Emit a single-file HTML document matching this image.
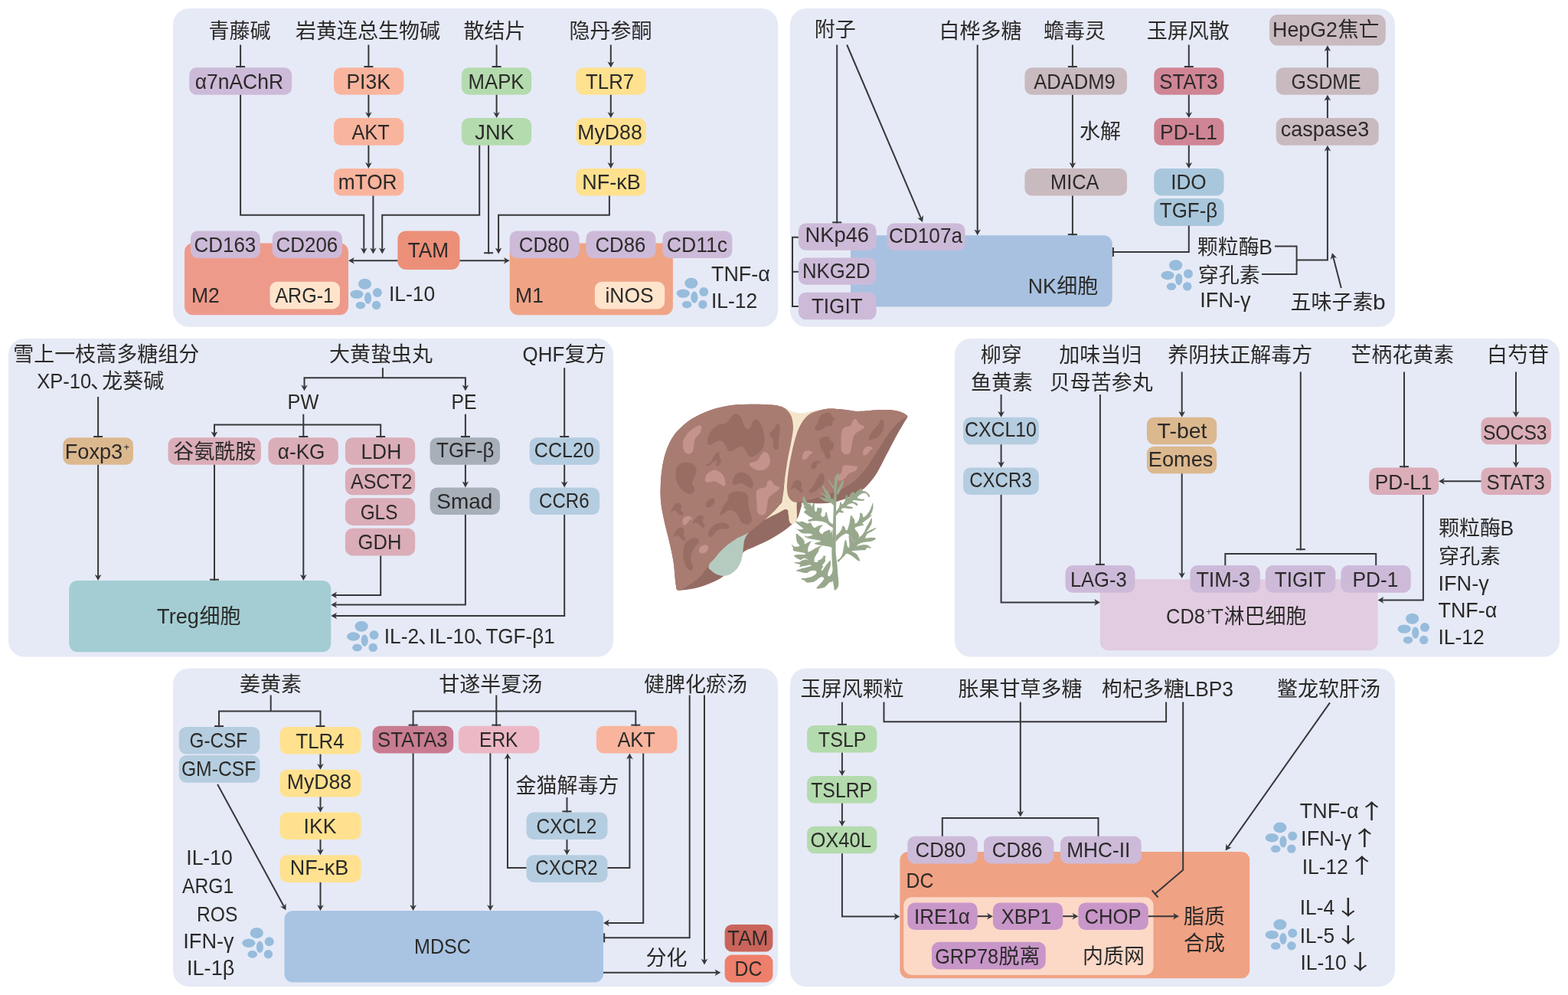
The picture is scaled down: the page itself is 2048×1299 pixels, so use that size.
<!DOCTYPE html>
<html lang="zh-CN">
<head>
<meta charset="utf-8">
<title>中药调控肝癌免疫微环境</title>
<style>
html,body{margin:0;padding:0;background:#fff;}
body{width:2048px;height:1299px;overflow:hidden;}
svg{display:block;will-change:transform;}
.l{font-size:27.6px;}
.ar{font-family:"Noto Sans CJK SC",sans-serif;}
text{font-family:"Liberation Sans","Noto Sans CJK SC",sans-serif;font-size:27px;fill:#2b2a29;white-space:pre;}

</style>
</head>
<body>
<svg width="2048" height="1299" viewBox="0 0 2048 1299">
<rect x="226.0" y="11.0" width="790.0" height="415.8" rx="21" fill="#e6eaf6"/>
<text y="49.6"><tspan x="272.5">青藤碱</tspan></text>
<text y="49.6"><tspan x="386.1">岩黄连总生物碱</tspan></text>
<text y="49.6"><tspan x="605.5">散结片</tspan></text>
<text y="49.6"><tspan x="743.5">隐丹参酮</tspan></text>
<rect x="247.2" y="88.2" width="134.0" height="35.6" rx="9.5" fill="#cdbad9"/>
<text y="115.7"><tspan class="l" x="254.8" textLength="115.2" lengthAdjust="spacingAndGlyphs">α7nAChR</tspan></text>
<rect x="436.0" y="88.2" width="91.3" height="35.6" rx="9.5" fill="#f9b49d"/>
<text y="115.7"><tspan class="l" x="452.4" textLength="57.4" lengthAdjust="spacingAndGlyphs">PI3K</tspan></text>
<rect x="436.0" y="154.1" width="91.3" height="35.6" rx="9.5" fill="#f9b49d"/>
<text y="181.6"><tspan class="l" x="459.4" textLength="49.5" lengthAdjust="spacingAndGlyphs">AKT</tspan></text>
<rect x="436.0" y="219.9" width="91.3" height="35.6" rx="9.5" fill="#f9b49d"/>
<text y="247.4"><tspan class="l" x="441.7" textLength="76.9" lengthAdjust="spacingAndGlyphs">mTOR</tspan></text>
<rect x="602.9" y="88.2" width="91.3" height="35.6" rx="9.5" fill="#b4dbae"/>
<text y="115.7"><tspan class="l" x="611.6" textLength="72.9" lengthAdjust="spacingAndGlyphs">MAPK</tspan></text>
<rect x="602.9" y="154.1" width="91.3" height="35.6" rx="9.5" fill="#b4dbae"/>
<text y="181.6"><tspan class="l" x="620.3" textLength="51.4" lengthAdjust="spacingAndGlyphs">JNK</tspan></text>
<rect x="752.4" y="88.2" width="91.3" height="35.6" rx="9.5" fill="#ffe18f"/>
<text y="115.7"><tspan class="l" x="765.1" textLength="63.0" lengthAdjust="spacingAndGlyphs">TLR7</tspan></text>
<rect x="752.4" y="154.1" width="91.3" height="35.6" rx="9.5" fill="#ffe18f"/>
<text y="181.6"><tspan class="l" x="754.3" textLength="84.5" lengthAdjust="spacingAndGlyphs">MyD88</tspan></text>
<rect x="752.4" y="219.9" width="91.3" height="35.6" rx="9.5" fill="#ffe18f"/>
<text y="247.4"><tspan class="l" x="760.3" textLength="76.4" lengthAdjust="spacingAndGlyphs">NF-κB</tspan></text>
<rect x="241.0" y="317.6" width="214.0" height="93.7" rx="11" fill="#ee9a8b"/>
<rect x="665.7" y="317.6" width="213.2" height="93.7" rx="11" fill="#f0a486"/>
<rect x="248.9" y="301.4" width="90.9" height="35.6" rx="9.5" fill="#cdbad9"/>
<text y="328.9"><tspan class="l" x="253.5" textLength="80.8" lengthAdjust="spacingAndGlyphs">CD163</tspan></text>
<rect x="355.7" y="301.4" width="91.3" height="35.6" rx="9.5" fill="#cdbad9"/>
<text y="328.9"><tspan class="l" x="360.5" textLength="80.8" lengthAdjust="spacingAndGlyphs">CD206</tspan></text>
<rect x="352.5" y="367.8" width="91.4" height="35.6" rx="9.5" fill="#ffe4cc"/>
<text y="395.3"><tspan class="l" x="359.4" textLength="76.5" lengthAdjust="spacingAndGlyphs">ARG-1</tspan></text>
<rect x="519.4" y="301.4" width="81.1" height="50.6" rx="11" fill="#ec8f79"/>
<text y="336.4"><tspan class="l" x="532.8" textLength="53.3" lengthAdjust="spacingAndGlyphs">TAM</tspan></text>
<rect x="665.7" y="301.4" width="91.0" height="35.6" rx="9.5" fill="#cdbad9"/>
<text y="328.9"><tspan class="l" x="677.8" textLength="65.8" lengthAdjust="spacingAndGlyphs">CD80</tspan></text>
<rect x="765.4" y="301.4" width="91.0" height="35.6" rx="9.5" fill="#cdbad9"/>
<text y="328.9"><tspan class="l" x="777.5" textLength="65.8" lengthAdjust="spacingAndGlyphs">CD86</tspan></text>
<rect x="865.5" y="301.4" width="90.9" height="35.6" rx="9.5" fill="#cdbad9"/>
<text y="328.9"><tspan class="l" x="870.7" textLength="79.5" lengthAdjust="spacingAndGlyphs">CD11c</tspan></text>
<rect x="776.9" y="367.8" width="91.3" height="35.6" rx="9.5" fill="#ffe4cc"/>
<text y="395.3"><tspan class="l" x="790.5" textLength="63.1" lengthAdjust="spacingAndGlyphs">iNOS</tspan></text>
<text y="395.3"><tspan class="l" x="250.0" textLength="36.9" lengthAdjust="spacingAndGlyphs">M2</tspan></text>
<text y="395.3"><tspan class="l" x="673.1" textLength="36.9" lengthAdjust="spacingAndGlyphs">M1</tspan></text>
<g fill="#97bcdc"><ellipse cx="476.5" cy="370.8" rx="8.6" ry="7.0"/><ellipse cx="466.0" cy="384.1" rx="8.6" ry="5.7"/><ellipse cx="480.6" cy="389.2" rx="4.6" ry="7.6"/><ellipse cx="492.9" cy="382.0" rx="6.0" ry="6.0"/><ellipse cx="470.9" cy="398.7" rx="6.3" ry="4.8"/><ellipse cx="491.6" cy="398.5" rx="5.7" ry="5.7"/></g>
<text y="392.7"><tspan class="l" x="508.0" textLength="60.3" lengthAdjust="spacingAndGlyphs">IL-10</tspan></text>
<g fill="#97bcdc"><ellipse cx="902.8" cy="369.8" rx="8.6" ry="7.0"/><ellipse cx="892.3" cy="383.1" rx="8.6" ry="5.7"/><ellipse cx="906.9" cy="388.2" rx="4.6" ry="7.6"/><ellipse cx="919.2" cy="381.0" rx="6.0" ry="6.0"/><ellipse cx="897.2" cy="397.7" rx="6.3" ry="4.8"/><ellipse cx="917.9" cy="397.5" rx="5.7" ry="5.7"/></g>
<text y="366.7"><tspan class="l" x="929.0" textLength="76.8" lengthAdjust="spacingAndGlyphs">TNF-α</tspan></text>
<text y="401.7"><tspan class="l" x="929.0" textLength="60.3" lengthAdjust="spacingAndGlyphs">IL-12</tspan></text>
<path d="M314.1,58.5 L314.1,88.2" fill="none" stroke="#37373b" stroke-width="2.0"/>
<line x1="320.1" y1="87.0" x2="308.1" y2="87.0" stroke="#37373b" stroke-width="2.0"/>
<path d="M481.4,58.5 L481.4,88.2" fill="none" stroke="#37373b" stroke-width="2.0"/>
<line x1="487.4" y1="87.0" x2="475.4" y2="87.0" stroke="#37373b" stroke-width="2.0"/>
<path d="M648.6,58.5 L648.6,88.2" fill="none" stroke="#37373b" stroke-width="2.0"/>
<line x1="654.6" y1="87.0" x2="642.6" y2="87.0" stroke="#37373b" stroke-width="2.0"/>
<path d="M797.8,58.5 L797.8,84.2" fill="none" stroke="#37373b" stroke-width="2.0"/>
<polygon points="797.8,88.2 793.5,80.4 797.8,82.6 802.1,80.4" fill="#37373b"/>
<path d="M481.4,123.8 L481.4,150.1" fill="none" stroke="#37373b" stroke-width="2.0"/>
<polygon points="481.4,154.1 477.1,146.3 481.4,148.5 485.7,146.3" fill="#37373b"/>
<path d="M481.4,189.7 L481.4,215.9" fill="none" stroke="#37373b" stroke-width="2.0"/>
<polygon points="481.4,219.9 477.1,212.1 481.4,214.3 485.7,212.1" fill="#37373b"/>
<path d="M648.6,123.8 L648.6,150.1" fill="none" stroke="#37373b" stroke-width="2.0"/>
<polygon points="648.6,154.1 644.3,146.3 648.6,148.5 652.9,146.3" fill="#37373b"/>
<path d="M797.8,123.8 L797.8,150.1" fill="none" stroke="#37373b" stroke-width="2.0"/>
<polygon points="797.8,154.1 793.5,146.3 797.8,148.5 802.1,146.3" fill="#37373b"/>
<path d="M797.8,189.7 L797.8,215.9" fill="none" stroke="#37373b" stroke-width="2.0"/>
<polygon points="797.8,219.9 793.5,212.1 797.8,214.3 802.1,212.1" fill="#37373b"/>
<path d="M314.1,123.8 L314.1,280.8 L475.3,280.8 L475.3,327.4" fill="none" stroke="#37373b" stroke-width="2.0"/>
<polygon points="475.3,331.4 471.0,323.6 475.3,325.8 479.6,323.6" fill="#37373b"/>
<path d="M487.4,255.5 L487.4,327.4" fill="none" stroke="#37373b" stroke-width="2.0"/>
<polygon points="487.4,331.4 483.1,323.6 487.4,325.8 491.7,323.6" fill="#37373b"/>
<path d="M626.2,189.7 L626.2,280.8 L499.2,280.8 L499.2,327.4" fill="none" stroke="#37373b" stroke-width="2.0"/>
<polygon points="499.2,331.4 494.9,323.6 499.2,325.8 503.5,323.6" fill="#37373b"/>
<path d="M638.1,189.7 L638.1,331.4" fill="none" stroke="#37373b" stroke-width="2.0"/>
<line x1="644.1" y1="330.2" x2="632.1" y2="330.2" stroke="#37373b" stroke-width="2.0"/>
<path d="M795.9,255.5 L795.9,280.8 L651.1,280.8 L651.1,327.4" fill="none" stroke="#37373b" stroke-width="2.0"/>
<polygon points="651.1,331.4 646.8,323.6 651.1,325.8 655.4,323.6" fill="#37373b"/>
<path d="M519.4,340.3 L459.0,340.3" fill="none" stroke="#37373b" stroke-width="2.0"/>
<polygon points="455.0,340.3 462.8,336.0 460.6,340.3 462.8,344.6" fill="#37373b"/>
<path d="M600.5,340.3 L661.7,340.3" fill="none" stroke="#37373b" stroke-width="2.0"/>
<polygon points="665.7,340.3 657.9,344.6 660.1,340.3 657.9,336.0" fill="#37373b"/>
<rect x="1032.0" y="11.0" width="790.0" height="415.8" rx="21" fill="#e6eaf6"/>
<text y="48.4"><tspan x="1063.8">附子</tspan></text>
<text y="49.6"><tspan x="1226.6">白桦多糖</tspan></text>
<text y="49.6"><tspan x="1363.0">蟾毒灵</tspan></text>
<text y="49.6"><tspan x="1497.8">玉屏风散</tspan></text>
<rect x="1658.0" y="19.0" width="151.8" height="40.6" rx="11" fill="#c9babf"/>
<text y="48.1"><tspan class="l" x="1662.1" textLength="84.9" lengthAdjust="spacingAndGlyphs">HepG2</tspan><tspan x="1747.6">焦亡</tspan></text>
<rect x="1666.7" y="88.2" width="134.0" height="35.6" rx="9.5" fill="#c9babf"/>
<text y="115.7"><tspan class="l" x="1686.5" textLength="91.1" lengthAdjust="spacingAndGlyphs">GSDME</tspan></text>
<rect x="1666.7" y="154.1" width="134.0" height="35.6" rx="9.5" fill="#c9babf"/>
<text y="178.2"><tspan class="l" x="1672.8" textLength="115.4" lengthAdjust="spacingAndGlyphs">caspase3</tspan></text>
<rect x="1338.4" y="88.2" width="133.6" height="35.6" rx="9.5" fill="#c9babf"/>
<text y="115.7"><tspan class="l" x="1350.2" textLength="106.6" lengthAdjust="spacingAndGlyphs">ADADM9</tspan></text>
<rect x="1338.4" y="219.9" width="133.6" height="35.6" rx="9.5" fill="#c9babf"/>
<text y="247.4"><tspan class="l" x="1372.0" textLength="63.5" lengthAdjust="spacingAndGlyphs">MICA</tspan></text>
<text y="181.3"><tspan x="1410.0">水解</tspan></text>
<rect x="1507.3" y="88.2" width="91.3" height="35.6" rx="9.5" fill="#cf8594"/>
<text y="115.7"><tspan class="l" x="1514.3" textLength="76.4" lengthAdjust="spacingAndGlyphs">STAT3</tspan></text>
<rect x="1507.3" y="154.1" width="91.3" height="35.6" rx="9.5" fill="#cf8594"/>
<text y="181.6"><tspan class="l" x="1515.1" textLength="74.7" lengthAdjust="spacingAndGlyphs">PD-L1</tspan></text>
<rect x="1507.3" y="219.9" width="91.3" height="35.6" rx="9.5" fill="#a9c7dc"/>
<text y="247.4"><tspan class="l" x="1529.2" textLength="46.5" lengthAdjust="spacingAndGlyphs">IDO</tspan></text>
<rect x="1507.3" y="259.0" width="91.3" height="36.0" rx="9.5" fill="#a9c7dc"/>
<text y="283.7"><tspan class="l" x="1514.8" textLength="75.4" lengthAdjust="spacingAndGlyphs">TGF-β</tspan></text>
<rect x="1111.0" y="307.3" width="341.7" height="93.3" rx="11" fill="#a8c1e1"/>
<rect x="1042.9" y="291.5" width="101.7" height="35.2" rx="9.5" fill="#cdbad9"/>
<text y="315.6"><tspan class="l" x="1051.4" textLength="83.7" lengthAdjust="spacingAndGlyphs">NKp46</tspan></text>
<rect x="1158.4" y="291.5" width="102.1" height="35.2" rx="9.5" fill="#cdbad9"/>
<text y="317.2"><tspan class="l" x="1161.0" textLength="96.0" lengthAdjust="spacingAndGlyphs">CD107a</tspan></text>
<path d="M1042.9,309.7 L1035.0,309.7 L1035.0,399.9 L1042.9,399.9" fill="none" stroke="#37373b" stroke-width="2.0"/>
<path d="M1035.0,354.8 L1042.9,354.8" fill="none" stroke="#37373b" stroke-width="2.0"/>
<rect x="1042.9" y="336.6" width="101.7" height="35.2" rx="9.5" fill="#cdbad9"/>
<text y="362.7"><tspan class="l" x="1048.0" textLength="88.5" lengthAdjust="spacingAndGlyphs">NKG2D</tspan></text>
<rect x="1042.9" y="381.7" width="101.7" height="35.6" rx="9.5" fill="#cdbad9"/>
<text y="408.7"><tspan class="l" x="1059.9" textLength="66.8" lengthAdjust="spacingAndGlyphs">TIGIT</tspan></text>
<text y="383.0"><tspan class="l" x="1342.8" textLength="37.0" lengthAdjust="spacingAndGlyphs">NK</tspan><tspan x="1380.3">细胞</tspan></text>
<text y="331.8"><tspan x="1563.8">颗粒酶</tspan><tspan class="l" x="1644.3" textLength="17.7" lengthAdjust="spacingAndGlyphs">B</tspan></text>
<text y="368.6"><tspan x="1564.8">穿孔素</tspan></text>
<text y="401.2"><tspan class="l" x="1567.3" textLength="66.3" lengthAdjust="spacingAndGlyphs">IFN-γ</tspan></text>
<text y="403.5"><tspan x="1685.4">五味子素</tspan><tspan class="l" x="1792.9" textLength="16.7" lengthAdjust="spacingAndGlyphs">b</tspan></text>
<g fill="#97bcdc"><ellipse cx="1535.6" cy="346.2" rx="8.6" ry="7.0"/><ellipse cx="1525.1" cy="359.5" rx="8.6" ry="5.7"/><ellipse cx="1539.7" cy="364.6" rx="4.6" ry="7.6"/><ellipse cx="1552.0" cy="357.4" rx="6.0" ry="6.0"/><ellipse cx="1530.0" cy="374.1" rx="6.3" ry="4.8"/><ellipse cx="1550.7" cy="373.9" rx="5.7" ry="5.7"/></g>
<path d="M1093.2,58.5 L1093.2,291.5" fill="none" stroke="#37373b" stroke-width="2.0"/>
<line x1="1099.2" y1="290.3" x2="1087.2" y2="290.3" stroke="#37373b" stroke-width="2.0"/>
<path d="M1106.2,58.5 L1203.5,286.3" fill="none" stroke="#37373b" stroke-width="2.0"/>
<polygon points="1205.1,290.0 1198.1,284.5 1202.9,284.9 1206.0,281.1" fill="#37373b"/>
<path d="M1276.7,58.5 L1276.7,303.3" fill="none" stroke="#37373b" stroke-width="2.0"/>
<polygon points="1276.7,307.3 1272.4,299.5 1276.7,301.7 1281.0,299.5" fill="#37373b"/>
<path d="M1400.9,58.5 L1400.9,88.2" fill="none" stroke="#37373b" stroke-width="2.0"/>
<line x1="1406.9" y1="87.0" x2="1394.9" y2="87.0" stroke="#37373b" stroke-width="2.0"/>
<path d="M1400.9,123.8 L1400.9,215.9" fill="none" stroke="#37373b" stroke-width="2.0"/>
<polygon points="1400.9,219.9 1396.6,212.1 1400.9,214.3 1405.2,212.1" fill="#37373b"/>
<path d="M1400.9,255.5 L1400.9,307.3" fill="none" stroke="#37373b" stroke-width="2.0"/>
<line x1="1406.9" y1="306.1" x2="1394.9" y2="306.1" stroke="#37373b" stroke-width="2.0"/>
<path d="M1552.8,58.5 L1552.8,88.2" fill="none" stroke="#37373b" stroke-width="2.0"/>
<line x1="1558.8" y1="87.0" x2="1546.8" y2="87.0" stroke="#37373b" stroke-width="2.0"/>
<path d="M1552.8,123.8 L1552.8,150.1" fill="none" stroke="#37373b" stroke-width="2.0"/>
<polygon points="1552.8,154.1 1548.5,146.3 1552.8,148.5 1557.1,146.3" fill="#37373b"/>
<path d="M1552.8,189.7 L1552.8,215.9" fill="none" stroke="#37373b" stroke-width="2.0"/>
<polygon points="1552.8,219.9 1548.5,212.1 1552.8,214.3 1557.1,212.1" fill="#37373b"/>
<path d="M1552.8,294.6 L1552.8,329.0 L1452.7,329.0" fill="none" stroke="#37373b" stroke-width="2.0"/>
<line x1="1453.9" y1="335.0" x2="1453.9" y2="323.0" stroke="#37373b" stroke-width="2.0"/>
<path d="M1665.0,321.6 L1693.6,321.6 L1693.6,358.0 L1648.0,358.0" fill="none" stroke="#37373b" stroke-width="2.0"/>
<path d="M1693.6,339.4 L1733.9,339.4 L1733.9,193.7" fill="none" stroke="#37373b" stroke-width="2.0"/>
<polygon points="1733.9,189.7 1738.2,197.5 1733.9,195.3 1729.6,197.5" fill="#37373b"/>
<path d="M1733.9,154.1 L1733.9,127.8" fill="none" stroke="#37373b" stroke-width="2.0"/>
<polygon points="1733.9,123.8 1738.2,131.6 1733.9,129.4 1729.6,131.6" fill="#37373b"/>
<path d="M1733.9,88.2 L1733.9,63.3" fill="none" stroke="#37373b" stroke-width="2.0"/>
<polygon points="1733.9,59.3 1738.2,67.1 1733.9,64.9 1729.6,67.1" fill="#37373b"/>
<path d="M1751.8,376.0 L1741.0,334.2" fill="none" stroke="#37373b" stroke-width="2.0"/>
<polygon points="1740.0,330.3 1746.1,336.8 1741.4,335.7 1737.8,338.9" fill="#37373b"/>
<rect x="11.0" y="442.0" width="790.0" height="415.6" rx="21" fill="#e6eaf6"/>
<text y="472.4"><tspan x="17.3">雪上一枝蒿多糖组分</tspan></text>
<text y="507.2"><tspan class="l" x="48.3" textLength="70.9" lengthAdjust="spacingAndGlyphs">XP-10</tspan><tspan x="118.1">、</tspan><tspan x="133.2">龙葵碱</tspan></text>
<text y="472.4"><tspan x="430.0">大黄蛰虫丸</tspan></text>
<text y="472.4"><tspan class="l" x="682.6" textLength="54.6" lengthAdjust="spacingAndGlyphs">QHF</tspan><tspan x="737.7">复方</tspan></text>
<text y="533.8"><tspan class="l" x="375.6" textLength="40.8" lengthAdjust="spacingAndGlyphs">PW</tspan></text>
<text y="533.8"><tspan class="l" x="589.5" textLength="33.0" lengthAdjust="spacingAndGlyphs">PE</tspan></text>
<rect x="82.3" y="571.2" width="91.7" height="35.6" rx="9.5" fill="#dcb88e"/>
<text y="598.7"><tspan class="l" x="84.7" textLength="75.5" lengthAdjust="spacingAndGlyphs">Foxp3</tspan><tspan x="161.4" y="588.2" style="font-size:13.0px">+</tspan></text>
<rect x="219.5" y="571.2" width="121.4" height="35.6" rx="9.5" fill="#daadb8"/>
<text y="599.0"><tspan x="226.2">谷氨酰胺</tspan></text>
<rect x="350.4" y="571.2" width="91.4" height="35.6" rx="9.5" fill="#daadb8"/>
<text y="598.7"><tspan class="l" x="362.8" textLength="61.7" lengthAdjust="spacingAndGlyphs">α-KG</tspan></text>
<rect x="450.9" y="571.2" width="91.3" height="35.6" rx="9.5" fill="#daadb8"/>
<text y="598.7"><tspan class="l" x="471.4" textLength="52.9" lengthAdjust="spacingAndGlyphs">LDH</tspan></text>
<rect x="450.9" y="610.7" width="91.3" height="35.6" rx="9.5" fill="#daadb8"/>
<text y="638.2"><tspan class="l" x="458.1" textLength="80.4" lengthAdjust="spacingAndGlyphs">ASCT2</tspan></text>
<rect x="450.9" y="650.3" width="91.3" height="35.6" rx="9.5" fill="#daadb8"/>
<text y="677.8"><tspan class="l" x="470.7" textLength="48.7" lengthAdjust="spacingAndGlyphs">GLS</tspan></text>
<rect x="450.9" y="689.8" width="91.3" height="35.6" rx="9.5" fill="#daadb8"/>
<text y="717.3"><tspan class="l" x="467.6" textLength="56.8" lengthAdjust="spacingAndGlyphs">GDH</tspan></text>
<rect x="561.6" y="571.2" width="91.4" height="35.6" rx="9.5" fill="#a7afb9"/>
<text y="596.7"><tspan class="l" x="570.1" textLength="75.4" lengthAdjust="spacingAndGlyphs">TGF-β</tspan></text>
<rect x="561.6" y="636.4" width="91.4" height="35.6" rx="9.5" fill="#a7afb9"/>
<text y="663.9"><tspan class="l" x="570.3" textLength="73.0" lengthAdjust="spacingAndGlyphs">Smad</tspan></text>
<rect x="691.7" y="571.2" width="91.4" height="35.6" rx="9.5" fill="#b5cde0"/>
<text y="597.0"><tspan class="l" x="697.8" textLength="78.2" lengthAdjust="spacingAndGlyphs">CCL20</tspan></text>
<rect x="691.7" y="636.4" width="91.4" height="35.6" rx="9.5" fill="#b5cde0"/>
<text y="663.1"><tspan class="l" x="704.0" textLength="65.7" lengthAdjust="spacingAndGlyphs">CCR6</tspan></text>
<rect x="90.2" y="757.9" width="342.1" height="93.3" rx="11" fill="#a3cdd3"/>
<text y="813.8"><tspan class="l" x="205.1" textLength="54.8" lengthAdjust="spacingAndGlyphs">Treg</tspan><tspan x="260.4">细胞</tspan></text>
<g fill="#97bcdc"><ellipse cx="472.1" cy="817.7" rx="8.6" ry="7.0"/><ellipse cx="461.6" cy="831.0" rx="8.6" ry="5.7"/><ellipse cx="476.2" cy="836.1" rx="4.6" ry="7.6"/><ellipse cx="488.5" cy="828.9" rx="6.0" ry="6.0"/><ellipse cx="466.5" cy="845.6" rx="6.3" ry="4.8"/><ellipse cx="487.2" cy="845.4" rx="5.7" ry="5.7"/></g>
<text y="839.9"><tspan class="l" x="501.8" textLength="45.3" lengthAdjust="spacingAndGlyphs">IL-2</tspan><tspan x="546.0">、</tspan><tspan class="l" x="560.6" textLength="60.3" lengthAdjust="spacingAndGlyphs">IL-10</tspan><tspan x="619.8">、</tspan><tspan class="l" x="634.4" textLength="90.3" lengthAdjust="spacingAndGlyphs">TGF-β1</tspan></text>
<path d="M128.1,518.0 L128.1,571.2" fill="none" stroke="#37373b" stroke-width="2.0"/>
<line x1="134.1" y1="570.0" x2="122.1" y2="570.0" stroke="#37373b" stroke-width="2.0"/>
<path d="M128.1,606.8 L128.1,753.9" fill="none" stroke="#37373b" stroke-width="2.0"/>
<polygon points="128.1,757.9 123.8,750.1 128.1,752.3 132.4,750.1" fill="#37373b"/>
<path d="M499.9,480.2 L499.9,493.3" fill="none" stroke="#37373b" stroke-width="2.0"/>
<path d="M397.5,506.3 L397.5,493.3 L607.9,493.3 L607.9,506.3" fill="none" stroke="#37373b" stroke-width="2.0"/>
<polygon points="607.9,510.3 603.6,502.5 607.9,504.7 612.2,502.5" fill="#37373b"/>
<polygon points="397.5,510.3 393.2,502.5 397.5,504.7 401.8,502.5" fill="#37373b"/>
<path d="M396.3,540.7 L396.3,571.2" fill="none" stroke="#37373b" stroke-width="2.0"/>
<line x1="402.3" y1="570.0" x2="390.3" y2="570.0" stroke="#37373b" stroke-width="2.0"/>
<path d="M280.0,567.2 L280.0,554.6 L497.2,554.6 L497.2,571.2" fill="none" stroke="#37373b" stroke-width="2.0"/>
<line x1="503.2" y1="570.0" x2="491.2" y2="570.0" stroke="#37373b" stroke-width="2.0"/>
<polygon points="280.0,571.2 275.7,563.4 280.0,565.6 284.3,563.4" fill="#37373b"/>
<path d="M607.9,540.7 L607.9,571.2" fill="none" stroke="#37373b" stroke-width="2.0"/>
<line x1="613.9" y1="570.0" x2="601.9" y2="570.0" stroke="#37373b" stroke-width="2.0"/>
<path d="M607.9,606.8 L607.9,632.4" fill="none" stroke="#37373b" stroke-width="2.0"/>
<polygon points="607.9,636.4 603.6,628.6 607.9,630.8 612.2,628.6" fill="#37373b"/>
<path d="M607.9,672.0 L607.9,789.5 L436.3,789.5" fill="none" stroke="#37373b" stroke-width="2.0"/>
<polygon points="432.3,789.5 440.1,785.2 437.9,789.5 440.1,793.8" fill="#37373b"/>
<path d="M737.2,480.2 L737.2,571.2" fill="none" stroke="#37373b" stroke-width="2.0"/>
<line x1="743.2" y1="570.0" x2="731.2" y2="570.0" stroke="#37373b" stroke-width="2.0"/>
<path d="M737.2,606.8 L737.2,632.4" fill="none" stroke="#37373b" stroke-width="2.0"/>
<polygon points="737.2,636.4 732.9,628.6 737.2,630.8 741.5,628.6" fill="#37373b"/>
<path d="M737.2,672.0 L737.2,804.0 L436.3,804.0" fill="none" stroke="#37373b" stroke-width="2.0"/>
<polygon points="432.3,804.0 440.1,799.7 437.9,804.0 440.1,808.3" fill="#37373b"/>
<path d="M280.0,606.8 L280.0,757.9" fill="none" stroke="#37373b" stroke-width="2.0"/>
<line x1="286.0" y1="756.7" x2="274.0" y2="756.7" stroke="#37373b" stroke-width="2.0"/>
<path d="M396.3,606.8 L396.3,753.9" fill="none" stroke="#37373b" stroke-width="2.0"/>
<polygon points="396.3,757.9 392.0,750.1 396.3,752.3 400.6,750.1" fill="#37373b"/>
<path d="M497.2,725.4 L497.2,776.9 L436.3,776.9" fill="none" stroke="#37373b" stroke-width="2.0"/>
<polygon points="432.3,776.9 440.1,772.6 437.9,776.9 440.1,781.2" fill="#37373b"/>
<rect x="1247.0" y="442.0" width="790.0" height="415.6" rx="21" fill="#e6eaf6"/>
<text y="473.2"><tspan x="1280.8">柳穿</tspan></text>
<text y="509.0"><tspan x="1267.9">鱼黄素</tspan></text>
<text y="473.2"><tspan x="1383.3">加味当归</tspan></text>
<text y="509.0"><tspan x="1370.8">贝母苦参丸</tspan></text>
<text y="473.2"><tspan x="1525.3">养阴扶正解毒方</tspan></text>
<text y="473.2"><tspan x="1764.3">芒柄花黄素</tspan></text>
<text y="473.2"><tspan x="1942.0">白芍苷</tspan></text>
<rect x="1258.1" y="544.7" width="98.7" height="35.6" rx="9.5" fill="#b5cde0"/>
<text y="570.2"><tspan class="l" x="1260.0" textLength="93.9" lengthAdjust="spacingAndGlyphs">CXCL10</tspan></text>
<rect x="1258.1" y="610.4" width="98.7" height="35.6" rx="9.5" fill="#b5cde0"/>
<text y="636.4"><tspan class="l" x="1266.2" textLength="81.4" lengthAdjust="spacingAndGlyphs">CXCR3</tspan></text>
<rect x="1497.9" y="544.7" width="91.3" height="35.6" rx="9.5" fill="#dcb88e"/>
<text y="572.2"><tspan class="l" x="1511.6" textLength="64.9" lengthAdjust="spacingAndGlyphs">T-bet</tspan></text>
<rect x="1497.9" y="582.7" width="91.3" height="35.6" rx="9.5" fill="#dcb88e"/>
<text y="608.9"><tspan class="l" x="1499.8" textLength="84.6" lengthAdjust="spacingAndGlyphs">Eomes</tspan></text>
<rect x="1934.5" y="544.7" width="91.4" height="35.6" rx="9.5" fill="#daadb8"/>
<text y="574.2"><tspan class="l" x="1936.9" textLength="83.7" lengthAdjust="spacingAndGlyphs">SOCS3</tspan></text>
<rect x="1934.5" y="610.4" width="91.4" height="35.6" rx="9.5" fill="#daadb8"/>
<text y="638.9"><tspan class="l" x="1941.5" textLength="76.4" lengthAdjust="spacingAndGlyphs">STAT3</tspan></text>
<rect x="1788.2" y="610.4" width="90.9" height="35.6" rx="9.5" fill="#daadb8"/>
<text y="638.9"><tspan class="l" x="1795.8" textLength="74.7" lengthAdjust="spacingAndGlyphs">PD-L1</tspan></text>
<rect x="1436.9" y="756.3" width="362.7" height="93.0" rx="11" fill="#e2cce1"/>
<rect x="1391.5" y="738.1" width="90.9" height="35.6" rx="9.5" fill="#cdbad9"/>
<text y="765.6"><tspan class="l" x="1397.9" textLength="73.8" lengthAdjust="spacingAndGlyphs">LAG-3</tspan></text>
<rect x="1554.4" y="738.1" width="91.4" height="35.6" rx="9.5" fill="#cdbad9"/>
<text y="765.6"><tspan class="l" x="1562.4" textLength="70.4" lengthAdjust="spacingAndGlyphs">TIM-3</tspan></text>
<rect x="1652.9" y="738.1" width="91.4" height="35.6" rx="9.5" fill="#cdbad9"/>
<text y="765.6"><tspan class="l" x="1664.7" textLength="66.8" lengthAdjust="spacingAndGlyphs">TIGIT</tspan></text>
<rect x="1751.4" y="738.1" width="91.3" height="35.6" rx="9.5" fill="#cdbad9"/>
<text y="765.6"><tspan class="l" x="1766.5" textLength="60.0" lengthAdjust="spacingAndGlyphs">PD-1</tspan></text>
<text y="813.8"><tspan class="l" x="1523.1" textLength="50.8" lengthAdjust="spacingAndGlyphs">CD8</tspan><tspan x="1575.0" y="803.0" style="font-size:13.0px">+</tspan><tspan class="l" x="1581.7" y="813.8" textLength="16.2" lengthAdjust="spacingAndGlyphs">T</tspan><tspan x="1598.4" y="813.8">淋巴细胞</tspan></text>
<text y="699.2"><tspan x="1879.0">颗粒酶</tspan><tspan class="l" x="1959.5" textLength="17.7" lengthAdjust="spacingAndGlyphs">B</tspan></text>
<text y="735.7"><tspan x="1879.0">穿孔素</tspan></text>
<text y="770.5"><tspan class="l" x="1878.5" textLength="66.3" lengthAdjust="spacingAndGlyphs">IFN-γ</tspan></text>
<text y="805.6"><tspan class="l" x="1878.5" textLength="76.8" lengthAdjust="spacingAndGlyphs">TNF-α</tspan></text>
<text y="841.2"><tspan class="l" x="1878.5" textLength="60.3" lengthAdjust="spacingAndGlyphs">IL-12</tspan></text>
<g fill="#97bcdc"><ellipse cx="1844.6" cy="807.8" rx="8.6" ry="7.0"/><ellipse cx="1834.1" cy="821.1" rx="8.6" ry="5.7"/><ellipse cx="1848.7" cy="826.2" rx="4.6" ry="7.6"/><ellipse cx="1861.0" cy="819.0" rx="6.0" ry="6.0"/><ellipse cx="1839.0" cy="835.7" rx="6.3" ry="4.8"/><ellipse cx="1859.7" cy="835.5" rx="5.7" ry="5.7"/></g>
<path d="M1307.6,515.0 L1307.6,540.7" fill="none" stroke="#37373b" stroke-width="2.0"/>
<polygon points="1307.6,544.7 1303.3,536.9 1307.6,539.1 1311.9,536.9" fill="#37373b"/>
<path d="M1307.6,580.3 L1307.6,606.4" fill="none" stroke="#37373b" stroke-width="2.0"/>
<polygon points="1307.6,610.4 1303.3,602.6 1307.6,604.8 1311.9,602.6" fill="#37373b"/>
<path d="M1307.6,646.0 L1307.6,786.4 L1432.9,786.4" fill="none" stroke="#37373b" stroke-width="2.0"/>
<polygon points="1436.9,786.4 1429.1,790.7 1431.3,786.4 1429.1,782.1" fill="#37373b"/>
<path d="M1436.9,515.0 L1436.9,738.1" fill="none" stroke="#37373b" stroke-width="2.0"/>
<line x1="1442.9" y1="736.9" x2="1430.9" y2="736.9" stroke="#37373b" stroke-width="2.0"/>
<path d="M1543.7,485.4 L1543.7,540.7" fill="none" stroke="#37373b" stroke-width="2.0"/>
<polygon points="1543.7,544.7 1539.4,536.9 1543.7,539.1 1548.0,536.9" fill="#37373b"/>
<path d="M1543.7,618.3 L1543.7,751.0" fill="none" stroke="#37373b" stroke-width="2.0"/>
<polygon points="1543.7,755.0 1539.4,747.2 1543.7,749.4 1548.0,747.2" fill="#37373b"/>
<path d="M1698.8,485.4 L1698.8,718.4" fill="none" stroke="#37373b" stroke-width="2.0"/>
<line x1="1704.8" y1="717.2" x2="1692.8" y2="717.2" stroke="#37373b" stroke-width="2.0"/>
<path d="M1600.3,738.1 L1600.3,723.1 L1797.2,723.1 L1797.2,738.1" fill="none" stroke="#37373b" stroke-width="2.0"/>
<path d="M1834.0,485.4 L1834.0,610.4" fill="none" stroke="#37373b" stroke-width="2.0"/>
<line x1="1840.0" y1="609.2" x2="1828.0" y2="609.2" stroke="#37373b" stroke-width="2.0"/>
<path d="M1980.0,485.4 L1980.0,540.7" fill="none" stroke="#37373b" stroke-width="2.0"/>
<polygon points="1980.0,544.7 1975.7,536.9 1980.0,539.1 1984.3,536.9" fill="#37373b"/>
<path d="M1980.0,580.3 L1980.0,606.4" fill="none" stroke="#37373b" stroke-width="2.0"/>
<polygon points="1980.0,610.4 1975.7,602.6 1980.0,604.8 1984.3,602.6" fill="#37373b"/>
<path d="M1934.5,628.2 L1883.1,628.2" fill="none" stroke="#37373b" stroke-width="2.0"/>
<polygon points="1879.1,628.2 1886.9,623.9 1884.7,628.2 1886.9,632.5" fill="#37373b"/>
<path d="M1858.9,646.0 L1858.9,783.4 L1803.6,783.4" fill="none" stroke="#37373b" stroke-width="2.0"/>
<polygon points="1799.6,783.4 1807.4,779.1 1805.2,783.4 1807.4,787.7" fill="#37373b"/>
<rect x="226.0" y="872.4" width="790.0" height="415.8" rx="21" fill="#e6eaf6"/>
<text y="902.8"><tspan x="313.0">姜黄素</tspan></text>
<text y="902.8"><tspan x="573.2">甘遂半夏汤</tspan></text>
<text y="902.8"><tspan x="841.0">健脾化瘀汤</tspan></text>
<rect x="233.8" y="949.0" width="105.6" height="35.6" rx="9.5" fill="#b5cddf"/>
<text y="975.9"><tspan class="l" x="247.6" textLength="75.5" lengthAdjust="spacingAndGlyphs">G-CSF</tspan></text>
<rect x="233.8" y="986.1" width="105.6" height="35.6" rx="9.5" fill="#b5cddf"/>
<text y="1012.8"><tspan class="l" x="236.9" textLength="97.4" lengthAdjust="spacingAndGlyphs">GM-CSF</tspan></text>
<rect x="365.5" y="949.0" width="106.0" height="35.6" rx="9.5" fill="#ffe18f"/>
<text y="976.5"><tspan class="l" x="386.5" textLength="63.0" lengthAdjust="spacingAndGlyphs">TLR4</tspan></text>
<rect x="365.5" y="1004.8" width="106.0" height="35.6" rx="9.5" fill="#ffe18f"/>
<text y="1030.3"><tspan class="l" x="374.7" textLength="84.5" lengthAdjust="spacingAndGlyphs">MyD88</tspan></text>
<rect x="365.5" y="1060.5" width="106.0" height="35.6" rx="9.5" fill="#ffe18f"/>
<text y="1088.0"><tspan class="l" x="396.6" textLength="42.8" lengthAdjust="spacingAndGlyphs">IKK</tspan></text>
<rect x="365.5" y="1116.3" width="106.0" height="35.6" rx="9.5" fill="#ffe18f"/>
<text y="1142.2"><tspan class="l" x="378.8" textLength="76.4" lengthAdjust="spacingAndGlyphs">NF-κB</tspan></text>
<rect x="486.6" y="947.8" width="105.6" height="35.6" rx="9.5" fill="#c97c91"/>
<text y="975.3"><tspan class="l" x="493.1" textLength="91.6" lengthAdjust="spacingAndGlyphs">STATA3</tspan></text>
<rect x="598.9" y="947.8" width="105.6" height="35.6" rx="9.5" fill="#ecb8c5"/>
<text y="975.3"><tspan class="l" x="626.0" textLength="50.5" lengthAdjust="spacingAndGlyphs">ERK</tspan></text>
<rect x="778.9" y="947.8" width="105.6" height="35.6" rx="9.5" fill="#f9b49d"/>
<text y="975.3"><tspan class="l" x="806.4" textLength="49.5" lengthAdjust="spacingAndGlyphs">AKT</tspan></text>
<text y="1035.3"><tspan x="673.5">金猫解毒方</tspan></text>
<rect x="687.5" y="1060.5" width="106.0" height="35.6" rx="9.5" fill="#b5cde0"/>
<text y="1088.0"><tspan class="l" x="700.5" textLength="78.9" lengthAdjust="spacingAndGlyphs">CXCL2</tspan></text>
<rect x="687.5" y="1116.3" width="106.0" height="35.6" rx="9.5" fill="#b5cde0"/>
<text y="1142.2"><tspan class="l" x="699.3" textLength="81.4" lengthAdjust="spacingAndGlyphs">CXCR2</tspan></text>
<rect x="371.5" y="1189.0" width="416.5" height="93.4" rx="11" fill="#a9c4e3"/>
<text y="1244.6"><tspan class="l" x="541.1" textLength="73.8" lengthAdjust="spacingAndGlyphs">MDSC</tspan></text>
<rect x="946.6" y="1206.9" width="62.8" height="35.6" rx="9.5" fill="#c9645b"/>
<text y="1234.4"><tspan class="l" x="950.1" textLength="53.3" lengthAdjust="spacingAndGlyphs">TAM</tspan></text>
<rect x="946.6" y="1246.6" width="62.8" height="35.8" rx="9.5" fill="#ee7f6a"/>
<text y="1273.6"><tspan class="l" x="959.6" textLength="35.8" lengthAdjust="spacingAndGlyphs">DC</tspan></text>
<text y="1259.8"><tspan x="843.6">分化</tspan></text>
<text y="1129.3"><tspan class="l" x="243.3" textLength="60.3" lengthAdjust="spacingAndGlyphs">IL-10</tspan></text>
<text y="1165.9"><tspan class="l" x="238.1" textLength="67.1" lengthAdjust="spacingAndGlyphs">ARG1</tspan></text>
<text y="1202.5"><tspan class="l" x="257.1" textLength="53.3" lengthAdjust="spacingAndGlyphs">ROS</tspan></text>
<text y="1237.5"><tspan class="l" x="239.3" textLength="66.3" lengthAdjust="spacingAndGlyphs">IFN-γ</tspan></text>
<text y="1273.1"><tspan class="l" x="244.0" textLength="62.3" lengthAdjust="spacingAndGlyphs">IL-1β</tspan></text>
<g fill="#97bcdc"><ellipse cx="335.3" cy="1218.0" rx="8.6" ry="7.0"/><ellipse cx="324.8" cy="1231.3" rx="8.6" ry="5.7"/><ellipse cx="339.4" cy="1236.4" rx="4.6" ry="7.6"/><ellipse cx="351.7" cy="1229.2" rx="6.0" ry="6.0"/><ellipse cx="329.7" cy="1245.9" rx="6.3" ry="4.8"/><ellipse cx="350.4" cy="1245.7" rx="5.7" ry="5.7"/></g>
<path d="M353.7,907.5 L353.7,928.4" fill="none" stroke="#37373b" stroke-width="2.0"/>
<path d="M286.0,949.2 L286.0,928.4 L418.5,928.4 L418.5,949.2" fill="none" stroke="#37373b" stroke-width="2.0"/>
<line x1="424.5" y1="948.0" x2="412.5" y2="948.0" stroke="#37373b" stroke-width="2.0"/>
<line x1="292.0" y1="948.0" x2="280.0" y2="948.0" stroke="#37373b" stroke-width="2.0"/>
<path d="M284.1,1024.1 L371.6,1184.8" fill="none" stroke="#37373b" stroke-width="2.0"/>
<polygon points="373.5,1188.3 366.0,1183.5 370.8,1183.4 373.5,1179.4" fill="#37373b"/>
<path d="M418.5,984.6 L418.5,1000.8" fill="none" stroke="#37373b" stroke-width="2.0"/>
<polygon points="418.5,1004.8 414.2,997.0 418.5,999.2 422.8,997.0" fill="#37373b"/>
<path d="M418.5,1040.4 L418.5,1056.5" fill="none" stroke="#37373b" stroke-width="2.0"/>
<polygon points="418.5,1060.5 414.2,1052.7 418.5,1054.9 422.8,1052.7" fill="#37373b"/>
<path d="M418.5,1096.1 L418.5,1112.3" fill="none" stroke="#37373b" stroke-width="2.0"/>
<polygon points="418.5,1116.3 414.2,1108.5 418.5,1110.7 422.8,1108.5" fill="#37373b"/>
<path d="M418.5,1151.9 L418.5,1185.0" fill="none" stroke="#37373b" stroke-width="2.0"/>
<polygon points="418.5,1189.0 414.2,1181.2 418.5,1183.4 422.8,1181.2" fill="#37373b"/>
<path d="M648.3,907.5 L648.3,947.8" fill="none" stroke="#37373b" stroke-width="2.0"/>
<line x1="654.3" y1="946.6" x2="642.3" y2="946.6" stroke="#37373b" stroke-width="2.0"/>
<path d="M539.6,947.8 L539.6,928.4 L830.3,928.4 L830.3,947.8" fill="none" stroke="#37373b" stroke-width="2.0"/>
<line x1="836.3" y1="946.6" x2="824.3" y2="946.6" stroke="#37373b" stroke-width="2.0"/>
<line x1="545.6" y1="946.6" x2="533.6" y2="946.6" stroke="#37373b" stroke-width="2.0"/>
<path d="M539.6,983.4 L539.6,1185.0" fill="none" stroke="#37373b" stroke-width="2.0"/>
<polygon points="539.6,1189.0 535.3,1181.2 539.6,1183.4 543.9,1181.2" fill="#37373b"/>
<path d="M640.4,983.4 L640.4,1185.0" fill="none" stroke="#37373b" stroke-width="2.0"/>
<polygon points="640.4,1189.0 636.1,1181.2 640.4,1183.4 644.7,1181.2" fill="#37373b"/>
<path d="M687.5,1132.9 L663.0,1132.9 L663.0,987.4" fill="none" stroke="#37373b" stroke-width="2.0"/>
<polygon points="663.0,983.4 667.3,991.2 663.0,989.0 658.7,991.2" fill="#37373b"/>
<path d="M793.5,1132.9 L822.4,1132.9 L822.4,987.4" fill="none" stroke="#37373b" stroke-width="2.0"/>
<polygon points="822.4,983.4 826.7,991.2 822.4,989.0 818.1,991.2" fill="#37373b"/>
<path d="M840.2,983.4 L840.2,1204.9 L792.0,1204.9" fill="none" stroke="#37373b" stroke-width="2.0"/>
<polygon points="788.0,1204.9 795.8,1200.6 793.6,1204.9 795.8,1209.2" fill="#37373b"/>
<path d="M740.5,1041.0 L740.5,1060.5" fill="none" stroke="#37373b" stroke-width="2.0"/>
<line x1="746.5" y1="1059.3" x2="734.5" y2="1059.3" stroke="#37373b" stroke-width="2.0"/>
<path d="M740.5,1096.1 L740.5,1112.3" fill="none" stroke="#37373b" stroke-width="2.0"/>
<polygon points="740.5,1116.3 736.2,1108.5 740.5,1110.7 744.8,1108.5" fill="#37373b"/>
<path d="M900.7,907.5 L900.7,1224.3 L788.0,1224.3" fill="none" stroke="#37373b" stroke-width="2.0"/>
<line x1="789.2" y1="1230.3" x2="789.2" y2="1218.3" stroke="#37373b" stroke-width="2.0"/>
<path d="M920.0,907.5 L920.0,1255.5" fill="none" stroke="#37373b" stroke-width="2.0"/>
<polygon points="920.0,1259.5 915.7,1251.7 920.0,1253.9 924.3,1251.7" fill="#37373b"/>
<path d="M788.0,1269.7 L937.4,1269.7" fill="none" stroke="#37373b" stroke-width="2.0"/>
<polygon points="941.4,1269.7 933.6,1274.0 935.8,1269.7 933.6,1265.4" fill="#37373b"/>
<rect x="1032.0" y="872.4" width="790.0" height="415.8" rx="21" fill="#e6eaf6"/>
<text y="908.9"><tspan x="1045.5">玉屏风颗粒</tspan></text>
<text y="908.9"><tspan x="1251.4">胀果甘草多糖</tspan></text>
<text y="908.9"><tspan x="1439.0">枸杞多糖</tspan><tspan class="l" x="1546.5" textLength="64.5" lengthAdjust="spacingAndGlyphs">LBP3</tspan></text>
<text y="908.9"><tspan x="1667.9">鳖龙软肝汤</tspan></text>
<rect x="1054.0" y="947.0" width="91.4" height="35.6" rx="9.5" fill="#b4dbae"/>
<text y="974.5"><tspan class="l" x="1068.8" textLength="62.8" lengthAdjust="spacingAndGlyphs">TSLP</tspan></text>
<rect x="1054.0" y="1013.1" width="91.4" height="35.6" rx="9.5" fill="#b4dbae"/>
<text y="1040.6"><tspan class="l" x="1059.2" textLength="80.0" lengthAdjust="spacingAndGlyphs">TSLRP</tspan></text>
<rect x="1054.0" y="1078.7" width="91.4" height="35.6" rx="9.5" fill="#b4dbae"/>
<text y="1106.2"><tspan class="l" x="1058.4" textLength="79.6" lengthAdjust="spacingAndGlyphs">OX40L</tspan></text>
<rect x="1175.4" y="1111.9" width="456.8" height="165.4" rx="11" fill="#f0a284"/>
<rect x="1180.2" y="1171.3" width="326.3" height="101.6" rx="11" fill="#fcd8c7"/>
<rect x="1185.3" y="1091.8" width="91.4" height="35.6" rx="9.5" fill="#cdbad9"/>
<text y="1119.3"><tspan class="l" x="1195.6" textLength="65.8" lengthAdjust="spacingAndGlyphs">CD80</tspan></text>
<rect x="1285.0" y="1091.8" width="91.4" height="35.6" rx="9.5" fill="#cdbad9"/>
<text y="1119.3"><tspan class="l" x="1295.8" textLength="65.8" lengthAdjust="spacingAndGlyphs">CD86</tspan></text>
<rect x="1385.0" y="1091.8" width="105.7" height="35.6" rx="9.5" fill="#cdbad9"/>
<text y="1119.3"><tspan class="l" x="1393.2" textLength="83.2" lengthAdjust="spacingAndGlyphs">MHC-II</tspan></text>
<text y="1159.2"><tspan class="l" x="1183.6" textLength="35.8" lengthAdjust="spacingAndGlyphs">DC</tspan></text>
<rect x="1185.3" y="1178.4" width="91.4" height="35.6" rx="9.5" fill="#c896c8"/>
<text y="1205.9"><tspan class="l" x="1194.1" textLength="72.8" lengthAdjust="spacingAndGlyphs">IRE1α</tspan></text>
<rect x="1296.9" y="1178.4" width="91.3" height="35.6" rx="9.5" fill="#c896c8"/>
<text y="1205.9"><tspan class="l" x="1307.8" textLength="65.3" lengthAdjust="spacingAndGlyphs">XBP1</tspan></text>
<rect x="1408.4" y="1178.4" width="91.4" height="35.6" rx="9.5" fill="#c896c8"/>
<text y="1205.9"><tspan class="l" x="1416.6" textLength="74.0" lengthAdjust="spacingAndGlyphs">CHOP</tspan></text>
<rect x="1217.0" y="1229.8" width="148.7" height="35.6" rx="9.5" fill="#c896c8"/>
<text y="1257.6"><tspan class="l" x="1221.2" textLength="82.8" lengthAdjust="spacingAndGlyphs">GRP78</tspan><tspan x="1304.6">脱离</tspan></text>
<text y="1257.6"><tspan x="1414.1">内质网</tspan></text>
<text y="1206.2"><tspan x="1546.0">脂质</tspan></text>
<text y="1241.0"><tspan x="1546.0">合成</tspan></text>
<text y="1067.5"><tspan class="l" x="1697.8" textLength="76.8" lengthAdjust="spacingAndGlyphs">TNF-α</tspan></text>
<text class="ar" transform="translate(1791.5,1058.5) scale(1.36,1)" x="-13.5" y="10.4">↑</text>
<text y="1104.2"><tspan class="l" x="1699.1" textLength="66.3" lengthAdjust="spacingAndGlyphs">IFN-γ</tspan></text>
<text class="ar" transform="translate(1782.4,1094.0) scale(1.36,1)" x="-13.5" y="10.4">↑</text>
<text y="1140.5"><tspan class="l" x="1700.7" textLength="60.3" lengthAdjust="spacingAndGlyphs">IL-12</tspan></text>
<text class="ar" transform="translate(1778.8,1130.0) scale(1.36,1)" x="-13.5" y="10.4">↑</text>
<text y="1194.3"><tspan class="l" x="1697.8" textLength="45.3" lengthAdjust="spacingAndGlyphs">IL-4</tspan></text>
<text class="ar" transform="translate(1760.9,1184.7) scale(1.36,1)" x="-13.5" y="10.4">↓</text>
<text y="1230.8"><tspan class="l" x="1697.8" textLength="45.3" lengthAdjust="spacingAndGlyphs">IL-5</tspan></text>
<text class="ar" transform="translate(1760.9,1220.5) scale(1.36,1)" x="-13.5" y="10.4">↓</text>
<text y="1266.4"><tspan class="l" x="1698.5" textLength="60.3" lengthAdjust="spacingAndGlyphs">IL-10</tspan></text>
<text class="ar" transform="translate(1776.5,1256.0) scale(1.36,1)" x="-13.5" y="10.4">↓</text>
<g fill="#97bcdc"><ellipse cx="1671.8" cy="1080.4" rx="8.6" ry="7.0"/><ellipse cx="1661.3" cy="1093.7" rx="8.6" ry="5.7"/><ellipse cx="1675.9" cy="1098.8" rx="4.6" ry="7.6"/><ellipse cx="1688.2" cy="1091.6" rx="6.0" ry="6.0"/><ellipse cx="1666.2" cy="1108.3" rx="6.3" ry="4.8"/><ellipse cx="1686.9" cy="1108.1" rx="5.7" ry="5.7"/></g>
<g fill="#97bcdc"><ellipse cx="1671.8" cy="1207.1" rx="8.6" ry="7.0"/><ellipse cx="1661.3" cy="1220.4" rx="8.6" ry="5.7"/><ellipse cx="1675.9" cy="1225.5" rx="4.6" ry="7.6"/><ellipse cx="1688.2" cy="1218.3" rx="6.0" ry="6.0"/><ellipse cx="1666.2" cy="1235.0" rx="6.3" ry="4.8"/><ellipse cx="1686.9" cy="1234.8" rx="5.7" ry="5.7"/></g>
<path d="M1099.9,916.6 L1099.9,947.0" fill="none" stroke="#37373b" stroke-width="2.0"/>
<line x1="1105.9" y1="945.8" x2="1093.9" y2="945.8" stroke="#37373b" stroke-width="2.0"/>
<path d="M1099.9,982.6 L1099.9,1009.1" fill="none" stroke="#37373b" stroke-width="2.0"/>
<polygon points="1099.9,1013.1 1095.6,1005.3 1099.9,1007.5 1104.2,1005.3" fill="#37373b"/>
<path d="M1099.9,1048.7 L1099.9,1074.7" fill="none" stroke="#37373b" stroke-width="2.0"/>
<polygon points="1099.9,1078.7 1095.6,1070.9 1099.9,1073.1 1104.2,1070.9" fill="#37373b"/>
<path d="M1099.9,1114.3 L1099.9,1196.6 L1171.4,1196.6" fill="none" stroke="#37373b" stroke-width="2.0"/>
<polygon points="1175.4,1196.6 1167.6,1200.9 1169.8,1196.6 1167.6,1192.3" fill="#37373b"/>
<path d="M1154.5,916.6 L1154.5,942.3 L1523.1,942.3 L1523.1,916.6" fill="none" stroke="#37373b" stroke-width="2.0"/>
<path d="M1332.8,916.6 L1332.8,1062.6" fill="none" stroke="#37373b" stroke-width="2.0"/>
<polygon points="1332.8,1066.6 1328.5,1058.8 1332.8,1061.0 1337.1,1058.8" fill="#37373b"/>
<path d="M1230.8,1091.8 L1230.8,1068.0 L1434.5,1068.0 L1434.5,1091.8" fill="none" stroke="#37373b" stroke-width="2.0"/>
<path d="M1545.2,916.6 L1545.2,1135.7 L1507.7,1167.7" fill="none" stroke="#37373b" stroke-width="2.0"/>
<line x1="1512.5" y1="1171.5" x2="1504.7" y2="1162.4" stroke="#37373b" stroke-width="2.0"/>
<path d="M1737.0,917.3 L1602.9,1107.1" fill="none" stroke="#37373b" stroke-width="2.0"/>
<polygon points="1600.6,1110.4 1601.6,1101.5 1603.8,1105.8 1608.6,1106.5" fill="#37373b"/>
<path d="M1276.7,1196.2 L1292.9,1196.2" fill="none" stroke="#37373b" stroke-width="2.0"/>
<polygon points="1296.9,1196.2 1289.1,1200.5 1291.3,1196.2 1289.1,1191.9" fill="#37373b"/>
<path d="M1388.2,1196.2 L1404.4,1196.2" fill="none" stroke="#37373b" stroke-width="2.0"/>
<polygon points="1408.4,1196.2 1400.6,1200.5 1402.8,1196.2 1400.6,1191.9" fill="#37373b"/>
<path d="M1499.8,1196.2 L1536.0,1196.2" fill="none" stroke="#37373b" stroke-width="2.0"/>
<polygon points="1540.0,1196.2 1532.2,1200.5 1534.4,1196.2 1532.2,1191.9" fill="#37373b"/>
<g><path d="M1021.2,531.0C1019.4,530.6 1016.1,529.3 1010.1,528.8C1004.1,528.3 993.7,527.8 985.5,527.8C977.3,527.8 968.0,527.9 960.8,528.5C953.6,529.1 948.5,530.2 942.4,531.6C936.2,533.0 930.1,534.5 923.9,536.9C917.7,539.3 910.9,542.5 905.4,545.8C899.9,549.1 894.9,553.0 890.6,556.9C886.3,560.8 882.9,564.3 879.6,569.2C876.3,574.1 873.3,580.0 870.9,586.4C868.5,592.8 866.7,599.8 865.4,607.4C864.1,615.0 863.2,623.8 862.9,632.0C862.5,640.2 862.4,647.9 863.3,656.6C864.2,665.3 866.6,675.6 868.5,684.3C870.4,693.0 872.8,700.7 874.6,708.9C876.5,717.1 878.4,725.7 879.6,733.5C880.8,741.3 881.2,750.4 881.8,755.7C882.4,761.0 882.8,763.9 883.0,765.5C883.3,766.6 882.8,768.0 884.0,769.5C885.2,771.0 886.6,770.6 887.5,771.0C890.5,770.6 899.3,769.9 905.4,768.6C911.5,767.3 917.5,765.7 923.9,763.1C930.3,760.5 937.9,757.4 943.6,753.2C949.3,749.0 953.5,743.3 958.0,738.0C962.5,732.7 966.1,725.2 970.7,721.2C975.3,717.2 980.0,716.5 985.5,713.8C991.0,711.1 997.8,708.5 1003.9,705.2C1010.0,701.9 1017.3,697.6 1022.4,694.1C1027.5,690.6 1031.4,687.4 1034.7,684.3C1038.0,681.2 1040.0,679.6 1042.1,675.6C1044.1,671.6 1046.2,662.6 1047.0,660.0L1045,640 L1036,540Z" fill="#946b62"/>
<path d="M1071.6,535.3C1073.6,535.0 1078.8,533.6 1083.9,533.5C1089.0,533.4 1096.2,534.1 1102.4,534.7C1108.6,535.3 1113.6,536.8 1120.8,536.9C1128.0,537.0 1138.3,535.6 1145.5,535.3C1152.7,535.0 1158.8,534.9 1163.9,535.3C1169.0,535.7 1173.0,536.8 1176.3,537.8C1179.6,538.8 1182.4,540.9 1183.6,541.5C1184.1,542.0 1185.0,542.3 1185.3,543.5C1185.6,544.7 1184.8,545.3 1184.6,546.0C1183.8,547.2 1182.4,549.1 1180.0,553.2C1177.6,557.3 1173.8,563.6 1170.1,570.4C1166.4,577.2 1161.9,586.0 1157.8,593.8C1153.7,601.6 1149.6,610.6 1145.5,617.2C1141.4,623.8 1137.3,628.9 1133.2,633.2C1129.1,637.5 1125.9,640.0 1120.8,643.1C1115.7,646.2 1108.6,649.5 1102.4,651.7C1096.2,654.0 1090.1,655.7 1083.9,656.6C1077.7,657.5 1071.1,657.2 1065.4,657.2C1059.8,657.2 1053.2,656.6 1050.0,656.6C1046.8,656.6 1047.2,656.6 1046.0,657.5C1044.8,658.4 1043.8,660.0 1043.0,662.0C1042.2,664.0 1041.3,668.2 1041.0,669.5C1040.9,667.9 1041.6,662.5 1040.5,660.0C1039.4,657.5 1036.4,656.2 1034.6,654.2C1032.8,652.2 1030.8,650.7 1029.7,648.0C1028.6,645.3 1028.1,641.9 1027.9,638.2C1027.7,634.5 1028.0,630.9 1028.5,625.8C1029.0,620.7 1029.9,613.5 1030.9,607.4C1031.9,601.2 1033.4,594.4 1034.6,588.9C1035.8,583.4 1036.8,579.0 1038.3,574.1C1039.8,569.2 1041.2,563.8 1043.3,559.3C1045.3,554.8 1047.9,550.3 1050.6,547.0C1053.3,543.7 1055.8,541.6 1059.3,539.6C1062.8,537.6 1069.5,536.0 1071.6,535.3Z" fill="#946b62"/>
<path d="M1017,530C1018.5,530.5 1022.8,532.0 1026.0,533.3C1029.2,534.5 1032.5,536.5 1036.0,537.5C1039.5,538.5 1043.3,539.6 1047.0,539.6C1050.7,539.6 1054.8,538.2 1058.0,537.5C1061.2,536.8 1063.2,535.9 1066.0,535.5C1068.8,535.1 1073.5,535.1 1075.0,535.0L1060,560 L1040,600 L1042,650C1041.7,652.2 1040.9,654.5 1040.6,659.6C1040.3,664.7 1041.1,667.0 1040.9,671.9C1040.7,676.8 1041.1,677.8 1039.7,680.6C1038.3,683.4 1036.7,684.0 1034.7,684.0C1032.7,684.0 1032.1,683.4 1031.0,680.6C1029.9,677.8 1030.7,675.5 1029.8,671.9C1028.9,668.3 1030.5,665.7 1027.3,665.2C1024.1,664.7 1022.9,666.7 1016.3,669.8C1009.7,672.9 1003.0,676.5 999.0,678.5L1011.3,667 L1021.2,655.9 L1023.6,640 L1030,560 Z" fill="#f5e6cb"/>
<path d="M1021.2,531.0C1019.4,530.6 1016.1,529.3 1010.1,528.8C1004.1,528.3 993.7,527.8 985.5,527.8C977.3,527.8 968.0,527.9 960.8,528.5C953.6,529.1 948.5,530.2 942.4,531.6C936.2,533.0 930.1,534.5 923.9,536.9C917.7,539.3 910.9,542.5 905.4,545.8C899.9,549.1 894.9,553.0 890.6,556.9C886.3,560.8 882.9,564.3 879.6,569.2C876.3,574.1 873.3,580.0 870.9,586.4C868.5,592.8 866.7,599.8 865.4,607.4C864.1,615.0 863.2,623.8 862.9,632.0C862.5,640.2 862.4,647.9 863.3,656.6C864.2,665.3 866.6,675.6 868.5,684.3C870.4,693.0 872.8,700.7 874.6,708.9C876.5,717.1 878.4,725.7 879.6,733.5C880.8,741.3 881.2,750.4 881.8,755.7C882.4,761.0 882.8,763.9 883.0,765.5C883.3,766.6 882.8,768.0 884.0,769.5C885.2,771.0 886.6,770.6 887.5,771.0C889.5,769.9 894.9,767.3 899.3,764.3C903.7,761.3 909.7,757.3 914.0,753.2C918.3,749.1 919.9,745.2 925.1,739.7C930.3,734.2 936.2,727.4 945.0,720.0C953.8,712.6 969.1,702.2 978.1,695.3C987.1,688.3 993.5,683.0 999.0,678.3C1004.5,673.6 1007.9,670.6 1011.3,667.0C1014.7,663.4 1017.6,660.2 1019.5,656.5C1021.4,652.8 1022.1,646.9 1022.6,645.0C1023.0,641.8 1023.9,633.1 1024.9,625.8C1025.9,618.5 1027.2,609.4 1028.6,601.2C1030.0,593.0 1032.3,583.8 1033.5,576.6C1034.7,569.4 1036.0,563.7 1036.0,558.1C1036.0,552.5 1035.0,547.2 1033.5,543.3C1032.0,539.4 1029.3,536.8 1027.3,534.7C1025.2,532.7 1022.2,531.6 1021.2,531.0Z" fill="#a97c72"/>
<path d="M1071.6,535.3C1073.6,535.0 1078.8,533.6 1083.9,533.5C1089.0,533.4 1096.2,534.1 1102.4,534.7C1108.6,535.3 1113.6,536.8 1120.8,536.9C1128.0,537.0 1138.3,535.6 1145.5,535.3C1152.7,535.0 1158.8,534.9 1163.9,535.3C1169.0,535.7 1173.0,536.8 1176.3,537.8C1179.6,538.8 1182.4,540.9 1183.6,541.5L1184.6,544.5C1183.2,545.2 1178.8,546.9 1176.0,549.0C1173.2,551.1 1171.0,553.5 1168.0,557.0C1165.0,560.5 1161.5,565.0 1158.0,570.0C1154.5,575.0 1151.1,580.6 1147.0,587.0C1142.9,593.4 1137.6,602.5 1133.2,608.6C1128.8,614.7 1124.9,619.3 1120.8,623.4C1116.7,627.5 1112.6,630.4 1108.5,633.2C1104.4,636.0 1100.8,637.9 1096.0,640.0C1091.2,642.1 1085.2,644.2 1080.0,646.0C1074.8,647.8 1070.0,649.2 1065.0,650.5C1060.0,651.8 1053.8,653.0 1050.0,654.0C1046.2,655.0 1043.3,655.9 1042.0,656.3C1040.8,655.9 1036.6,655.6 1034.6,654.2C1032.5,652.8 1030.8,650.7 1029.7,648.0C1028.6,645.3 1028.1,641.9 1027.9,638.2C1027.7,634.5 1028.0,630.9 1028.5,625.8C1029.0,620.7 1029.9,613.5 1030.9,607.4C1031.9,601.2 1033.4,594.4 1034.6,588.9C1035.8,583.4 1036.8,579.0 1038.3,574.1C1039.8,569.2 1041.2,563.8 1043.3,559.3C1045.3,554.8 1047.9,550.3 1050.6,547.0C1053.3,543.7 1055.8,541.6 1059.3,539.6C1062.8,537.6 1069.5,536.0 1071.6,535.3Z" fill="#a97c72"/>
<path d="M923.9,576.6C923.9,573.6 923.9,570.9 926.4,566.7C928.8,562.5 931.8,558.6 936.2,555.6C940.6,552.7 944.6,554.4 948.5,551.9C952.5,549.5 953.2,545.7 955.9,543.3C958.6,541.0 959.6,539.8 962.1,540.2C964.5,540.7 966.0,542.2 968.2,545.8C970.4,549.4 970.9,555.4 973.2,558.1C975.4,560.8 977.3,560.8 979.3,559.3C981.3,557.9 981.3,553.1 983.0,550.7C984.7,548.4 985.7,546.9 987.9,547.6C990.1,548.4 992.0,549.9 994.1,554.4C996.2,559.0 997.9,564.5 998.4,570.4C998.9,576.3 998.4,579.5 996.6,584.0C994.7,588.4 992.4,590.1 989.2,592.6C986.0,595.0 983.3,596.5 980.5,596.3C977.8,596.0 977.6,593.8 975.6,591.4C973.6,588.9 972.9,585.4 970.7,584.0C968.5,582.5 967.5,583.0 964.5,584.0C961.6,585.0 958.6,588.2 955.9,588.9C953.2,589.6 953.0,589.6 951.0,587.7C949.0,585.7 948.3,581.5 946.1,579.0C943.8,576.6 942.9,575.3 939.9,575.3C936.9,575.3 934.0,577.8 931.3,579.0C928.6,580.3 927.8,582.0 926.4,581.5C924.9,581.0 923.9,579.5 923.9,576.6Z" fill="#986e63"/>
<path d="M1005.2,566.7C1005.4,563.5 1009.4,562.0 1011.3,559.3C1013.3,556.6 1013.5,553.7 1015.0,553.2C1016.5,552.7 1018.1,554.2 1018.7,556.9C1019.3,559.6 1018.5,562.8 1018.1,566.7C1017.7,570.7 1017.2,572.9 1016.9,576.6C1016.5,580.3 1017.1,583.1 1016.3,585.2C1015.4,587.3 1013.9,587.5 1012.6,587.0C1011.2,586.6 1010.0,585.1 1009.5,582.7C1009.0,580.4 1011.0,578.5 1010.1,575.3C1009.2,572.1 1004.9,569.9 1005.2,566.7Z" fill="#986e63"/>
<path d="M922.0,607.4C922.5,606.4 927.1,604.5 928.8,602.4C930.6,600.4 930.9,597.1 932.5,595.0C934.2,593.0 937.4,589.9 938.7,590.1C939.9,590.3 939.4,594.2 939.9,596.3C940.4,598.3 942.0,600.6 941.7,602.4C941.5,604.3 939.8,606.4 938.7,607.4C937.5,608.3 935.4,609.0 935.0,608.0C934.6,607.0 936.8,601.9 936.2,601.2C935.6,600.5 932.9,602.5 931.3,603.7C929.6,604.8 927.9,607.4 926.4,608.0C924.8,608.6 921.6,608.3 922.0,607.4Z" fill="#986e63"/>
<path d="M882.6,616.0C883.0,611.8 883.1,609.8 885.7,607.4C888.3,604.9 891.6,603.9 895.6,603.7C899.5,603.4 902.6,604.2 905.4,606.1C908.3,608.1 909.5,610.1 909.7,613.5C910.0,617.0 907.8,619.9 906.7,623.4C905.5,626.8 904.1,627.8 904.2,630.8C904.3,633.7 907.3,635.6 907.3,638.2C907.3,640.7 906.0,642.5 904.2,643.7C902.3,644.9 901.0,645.4 898.0,644.3C895.1,643.2 892.2,641.4 889.4,638.2C886.6,635.0 885.2,632.7 883.9,628.3C882.5,623.9 882.3,620.2 882.6,616.0Z" fill="#986e63"/>
<path d="M957.1,627.1C957.9,624.7 958.6,621.8 960.8,619.7C963.1,617.6 965.0,616.6 968.2,616.6C971.4,616.6 974.0,617.6 976.8,619.7C979.7,621.8 981.0,624.1 982.4,627.1C983.7,630.0 984.0,632.4 983.6,634.5C983.3,636.6 982.6,637.8 980.5,637.5C978.4,637.3 975.9,634.6 973.2,633.2C970.4,631.9 969.5,630.8 967.0,630.8C964.5,630.8 962.8,633.1 960.8,633.2C958.9,633.3 957.9,632.6 957.1,631.4C956.4,630.1 956.4,629.4 957.1,627.1Z" fill="#986e63"/>
<ellipse cx="927.6" cy="656.6" rx="7.4" ry="4.3" transform="rotate(-45 927.6 656.6)" fill="#986e63"/>
<path d="M940.5,671.9C940.3,670.5 941.5,667.5 943.6,663.3C945.7,659.1 949.3,654.7 951.0,651.0C952.7,647.3 950.2,646.7 952.2,644.9C954.2,643.0 957.1,642.3 960.8,641.8C964.5,641.3 967.5,641.3 970.7,642.4C973.9,643.5 975.5,643.9 976.8,647.3C978.2,650.8 976.5,654.0 977.5,659.6C978.4,665.3 981.0,671.2 981.8,675.6C982.5,680.1 982.4,680.0 981.2,681.8C979.9,683.6 978.2,684.9 975.6,684.9C973.0,684.9 970.7,684.4 968.2,681.8C965.8,679.2 965.5,674.9 963.3,671.9C961.1,669.0 959.6,668.1 957.1,667.0C954.7,665.9 953.4,665.7 951.0,666.4C948.5,667.1 946.9,669.6 944.8,670.7C942.7,671.8 940.8,673.4 940.5,671.9Z" fill="#986e63"/>
<path d="M876.5,668.3C876.5,666.8 878.9,661.4 880.8,659.0C882.6,656.7 883.9,656.4 885.7,656.6C887.6,656.7 889.3,657.8 890.0,659.6C890.8,661.5 888.9,663.7 889.4,665.8C889.9,667.9 892.5,668.6 892.5,670.1C892.5,671.6 891.0,673.4 889.4,673.2C887.8,672.9 886.2,670.2 884.5,668.9C882.8,667.5 882.4,666.5 880.8,666.4C879.2,666.3 876.5,669.7 876.5,668.3Z" fill="#986e63"/>
<path d="M904.8,683.0C904.9,681.4 908.3,676.5 910.3,674.4C912.4,672.3 913.5,672.3 915.3,672.6C917.0,672.8 918.5,673.8 919.0,675.6C919.5,677.5 917.4,679.8 917.7,681.8C918.1,683.8 920.7,684.0 920.8,685.5C920.9,687.0 919.7,689.2 918.3,689.2C917.0,689.2 915.8,686.8 914.0,685.5C912.3,684.1 911.6,682.9 909.7,682.4C907.9,681.9 904.7,684.6 904.8,683.0Z" fill="#986e63"/>
<path d="M879.6,700.3C879.8,698.5 883.0,692.8 885.1,690.4C887.2,688.1 888.3,688.2 890.0,688.6C891.7,688.9 893.2,690.2 893.7,692.3C894.2,694.4 892.1,696.9 892.5,699.0C892.9,701.1 895.4,701.4 895.6,702.7C895.7,704.1 894.6,706.1 893.1,705.8C891.6,705.6 890.0,702.9 888.2,701.5C886.3,700.1 885.6,699.3 883.9,699.0C882.1,698.8 879.3,702.0 879.6,700.3Z" fill="#986e63"/>
<path d="M925.1,696.6C925.4,694.2 926.6,691.8 928.8,689.2C931.0,686.6 932.8,685.0 936.2,683.6C939.7,682.3 942.9,681.8 946.1,682.4C949.3,683.0 951.2,685.1 952.2,686.7C953.2,688.3 952.7,689.7 951.0,690.4C949.3,691.2 946.6,689.9 943.6,690.4C940.6,690.9 938.7,691.2 936.2,692.9C933.7,694.6 933.0,697.4 931.3,699.0C929.6,700.6 928.8,701.4 927.6,700.9C926.4,700.4 924.9,698.9 925.1,696.6Z" fill="#986e63"/>
<path d="M892.5,718.7C893.0,714.3 893.5,712.0 895.6,708.9C897.7,705.8 900.0,704.6 903.0,703.3C905.9,702.1 908.4,701.9 910.3,702.7C912.3,703.6 913.3,705.4 912.8,707.7C912.3,709.9 909.9,710.6 907.9,713.8C905.9,717.0 903.9,719.7 903.0,723.7C902.0,727.6 902.5,730.1 903.0,733.5C903.4,737.0 905.7,738.7 905.4,740.9C905.2,743.1 903.4,744.6 901.7,744.6C900.0,744.6 898.5,743.6 896.8,740.9C895.1,738.2 894.0,735.5 893.1,731.1C892.2,726.6 892.0,723.2 892.5,718.7Z" fill="#986e63"/>
<path d="M891.9,579.0C892.2,575.1 893.1,572.9 895.6,569.2C898.0,565.5 900.7,563.3 904.2,560.6C907.6,557.9 910.3,556.1 912.8,555.6C915.3,555.1 916.3,556.1 916.5,558.1C916.7,560.1 915.8,562.5 914.0,565.5C912.3,568.4 909.5,569.2 907.9,572.9C906.3,576.6 906.8,580.5 906.0,584.0C905.3,587.4 905.5,588.4 904.2,590.1C902.8,591.8 901.4,592.8 899.3,592.6C897.2,592.3 895.2,591.6 893.7,588.9C892.2,586.2 891.5,583.0 891.9,579.0Z" fill="#c4948c"/>
<path d="M979.3,604.9C980.9,603.3 986.2,603.4 989.2,601.2C992.1,599.0 992.1,596.0 994.1,593.8C996.1,591.6 997.0,590.1 999.0,590.1C1001.0,590.1 1002.6,591.4 1003.9,593.8C1005.3,596.3 1006.0,599.2 1005.8,602.4C1005.5,605.6 1004.8,607.5 1002.7,609.8C1000.6,612.2 998.5,613.5 995.3,614.1C992.1,614.8 989.5,613.9 986.7,612.9C983.9,611.9 982.6,610.8 981.2,609.2C979.7,607.6 977.7,606.5 979.3,604.9Z" fill="#c4948c"/>
<path d="M920.8,625.8C921.2,623.7 921.8,620.8 923.9,618.4C926.0,616.1 928.3,614.8 931.3,614.1C934.2,613.5 936.0,614.0 938.7,615.4C941.4,616.7 943.1,618.1 944.8,620.9C946.6,623.7 947.2,626.8 947.3,629.5C947.4,632.2 947.2,634.2 945.4,634.5C943.7,634.7 941.3,632.0 938.7,630.8C936.1,629.5 935.0,628.5 932.5,628.3C930.0,628.1 928.4,629.4 926.4,629.5C924.3,629.7 923.2,629.7 922.0,628.9C920.9,628.2 920.4,627.9 920.8,625.8Z" fill="#c4948c"/>
<path d="M987.9,643.1C988.5,639.4 989.2,639.6 991.6,638.2C994.1,636.7 998.0,637.7 1000.2,635.7C1002.5,633.7 1001.2,629.9 1002.7,628.3C1004.2,626.7 1005.9,626.7 1007.6,627.7C1009.4,628.7 1009.2,631.5 1011.3,633.2C1013.4,635.0 1017.4,634.8 1018.1,636.3C1018.8,637.8 1016.9,638.8 1015.0,640.6C1013.2,642.5 1011.1,643.6 1008.9,645.5C1006.7,647.5 1005.4,647.0 1003.9,650.5C1002.5,653.9 1002.3,658.8 1001.5,662.8C1000.6,666.7 1001.1,668.2 999.6,670.2C998.2,672.1 996.2,673.1 994.1,672.6C992.0,672.1 990.3,670.9 989.2,667.7C988.1,664.5 988.8,661.6 988.5,656.6C988.3,651.7 987.3,646.8 987.9,643.1Z" fill="#c4948c"/>
<path d="M891.3,681.8C891.1,680.0 891.5,677.9 893.1,676.3C894.7,674.7 897.0,673.7 899.3,673.8C901.5,673.9 903.9,675.8 904.2,676.9C904.4,678.0 901.8,678.0 900.5,679.3C899.1,680.7 898.8,682.4 897.4,683.6C896.1,684.9 895.0,685.9 893.7,685.5C892.5,685.1 891.4,683.6 891.3,681.8Z" fill="#c4948c"/>
<ellipse cx="919.0" cy="716.9" rx="6.8" ry="4.9" transform="rotate(-35 919.0 716.9)" fill="#c4948c"/>
<path d="M1064.2,559.3C1064.2,557.2 1066.7,554.9 1067.9,551.9C1069.1,549.0 1068.6,547.0 1070.3,544.6C1072.1,542.1 1073.8,540.7 1076.5,539.6C1079.2,538.5 1081.7,538.0 1083.9,539.0C1086.1,540.0 1086.1,543.0 1087.6,544.6C1089.1,546.2 1091.3,546.0 1091.3,547.0C1091.3,548.0 1088.6,547.8 1087.6,549.5C1086.6,551.2 1088.1,554.2 1086.4,555.6C1084.6,557.1 1081.4,555.9 1079.0,556.9C1076.5,557.9 1076.3,559.5 1074.0,560.6C1071.8,561.7 1069.9,562.7 1067.9,562.4C1065.9,562.2 1064.2,561.4 1064.2,559.3Z" fill="#986e63"/>
<path d="M1070.3,575.3C1070.8,572.1 1072.8,571.4 1075.3,570.4C1077.7,569.4 1080.9,569.7 1082.7,570.4C1084.4,571.2 1082.7,572.4 1083.9,574.1C1085.1,575.8 1088.1,576.6 1088.8,579.0C1089.6,581.5 1088.6,584.5 1087.6,586.4C1086.6,588.4 1084.4,586.9 1083.9,588.9C1083.4,590.9 1085.6,594.2 1085.1,596.3C1084.6,598.4 1082.9,599.4 1081.4,599.4C1080.0,599.4 1078.7,597.9 1077.7,596.3C1076.7,594.7 1077.5,593.3 1076.5,591.4C1075.5,589.4 1074.0,589.6 1072.8,586.4C1071.6,583.2 1069.9,578.5 1070.3,575.3Z" fill="#986e63"/>
<path d="M1134.4,572.9C1134.4,570.5 1137.8,565.7 1140.5,561.8C1143.3,557.9 1146.0,556.0 1147.9,553.2C1149.9,550.3 1149.2,548.1 1150.4,547.6C1151.6,547.1 1153.3,548.4 1154.1,550.7C1154.8,553.1 1155.1,555.9 1154.1,559.3C1153.1,562.8 1151.9,565.1 1149.2,568.0C1146.5,570.8 1143.5,572.5 1140.5,573.5C1137.6,574.5 1134.4,575.2 1134.4,572.9Z" fill="#986e63"/>
<path d="M1059.3,608.6C1059.4,606.9 1060.0,605.1 1061.7,603.7C1063.4,602.2 1065.8,601.3 1067.9,601.2C1070.0,601.1 1072.2,602.1 1072.2,603.1C1072.2,604.0 1069.2,604.5 1067.9,606.1C1066.5,607.7 1066.8,609.8 1065.4,611.1C1064.1,612.3 1062.3,612.8 1061.1,612.3C1059.9,611.8 1059.1,610.3 1059.3,608.6Z" fill="#986e63"/>
<path d="M1056.2,641.8C1056.4,639.9 1060.6,636.9 1063.0,633.2C1065.3,629.5 1065.9,626.6 1067.9,623.4C1069.9,620.2 1071.1,617.5 1072.8,617.2C1074.5,617.0 1076.0,619.2 1076.5,622.1C1077.0,625.1 1076.7,628.8 1075.3,632.0C1073.8,635.2 1071.8,635.9 1069.1,638.2C1066.4,640.4 1064.3,642.3 1061.7,643.1C1059.1,643.8 1055.9,643.8 1056.2,641.8Z" fill="#986e63"/>
<path d="M1032.8,638.2C1032.7,636.6 1035.2,631.1 1037.1,628.9C1038.9,626.7 1040.0,626.8 1042.0,627.1C1044.0,627.3 1046.1,628.2 1046.9,630.1C1047.8,632.1 1046.0,634.8 1046.3,636.9C1046.7,639.0 1048.8,639.4 1048.8,640.6C1048.8,641.8 1047.7,643.3 1046.3,643.1C1045.0,642.8 1043.7,640.6 1042.0,639.4C1040.3,638.2 1039.6,637.2 1037.7,636.9C1035.9,636.7 1032.9,639.8 1032.8,638.2Z" fill="#986e63"/>
<path d="M1098.7,584.0C1098.5,578.8 1098.3,569.4 1099.3,564.3C1100.3,559.1 1101.3,559.8 1103.6,558.1C1105.9,556.4 1108.8,557.6 1111.0,555.6C1113.2,553.7 1113.2,549.9 1114.7,548.3C1116.2,546.7 1116.9,546.7 1118.4,547.6C1119.9,548.6 1120.0,551.3 1122.1,553.2C1124.2,555.0 1128.1,555.4 1128.8,556.9C1129.6,558.3 1127.6,559.1 1125.8,560.6C1123.9,562.0 1121.8,562.3 1119.6,564.3C1117.4,566.2 1116.2,566.5 1114.7,570.4C1113.2,574.4 1113.2,579.8 1112.2,584.0C1111.2,588.2 1111.2,589.5 1109.8,591.4C1108.3,593.2 1106.8,593.4 1104.8,593.2C1102.9,593.0 1101.1,592.0 1099.9,590.1C1098.7,588.3 1098.8,589.1 1098.7,584.0Z" fill="#c4948c"/>
<path d="M1048.2,598.7C1047.9,597.0 1047.9,593.4 1049.4,591.4C1050.9,589.3 1053.2,588.4 1055.6,588.3C1057.9,588.2 1060.7,589.6 1061.1,590.7C1061.5,591.8 1058.8,592.3 1057.4,593.8C1056.1,595.3 1055.7,596.9 1054.3,598.1C1053.0,599.4 1051.9,599.9 1050.6,600.0C1049.4,600.1 1048.4,600.5 1048.2,598.7Z" fill="#c4948c"/>
<path d="M1127.0,592.6C1126.9,590.9 1127.4,587.8 1128.8,585.8C1130.3,583.8 1132.2,582.9 1134.4,582.7C1136.6,582.6 1139.6,584.1 1139.9,585.2C1140.3,586.3 1137.6,586.8 1136.2,588.3C1134.9,589.8 1134.5,591.4 1133.2,592.6C1131.8,593.8 1130.7,594.4 1129.5,594.4C1128.2,594.4 1127.1,594.3 1127.0,592.6Z" fill="#c4948c"/>
<path d="M1090.0,624.6C1090.5,622.5 1096.5,620.4 1098.7,617.2C1100.9,614.0 1099.4,610.6 1101.1,608.6C1102.9,606.6 1104.6,607.4 1107.3,607.4C1110.0,607.4 1112.2,608.2 1114.7,608.6C1117.1,609.0 1119.1,608.0 1119.6,609.2C1120.1,610.4 1119.4,612.9 1117.1,614.8C1114.9,616.6 1111.2,616.5 1108.5,618.4C1105.8,620.4 1106.1,622.8 1103.6,624.6C1101.1,626.5 1098.9,627.7 1096.2,627.7C1093.5,627.7 1089.6,626.7 1090.0,624.6Z" fill="#c4948c"/>
<path d="M978.1,695.3C975.8,696.5 972.2,698.3 968.2,700.3C964.2,702.3 966.0,700.5 960.8,704.0C955.7,707.4 952.4,709.3 946.1,715.0C939.7,720.8 938.5,723.0 933.7,728.6C929.0,734.2 926.6,735.0 925.7,739.1C924.9,743.1 927.0,743.1 930.0,745.8C933.1,748.6 934.4,749.5 938.7,750.8C943.0,752.1 943.9,752.4 948.5,751.4C953.1,750.4 954.4,749.8 958.4,746.5C962.4,743.1 963.2,742.0 965.8,737.2C968.3,732.5 968.2,732.2 969.5,726.1C970.8,720.1 970.4,716.8 971.3,711.4C972.2,705.9 971.6,706.5 973.2,702.7C974.7,699.0 976.9,697.1 978.1,695.3Z" fill="#b5cbc0"/>
<path d="M1095.0,618.0C1095.4,618.1 1095.8,619.1 1095.7,620.4C1095.5,621.6 1094.3,625.0 1094.0,627.3C1093.6,629.6 1093.0,634.9 1092.8,637.7C1092.6,640.5 1092.6,645.3 1092.6,648.1C1092.5,650.9 1092.3,655.7 1092.2,658.5C1092.1,661.3 1092.0,666.1 1091.9,668.9C1091.9,671.7 1091.9,675.1 1091.9,679.3C1091.9,683.5 1091.9,696.2 1091.9,700.4C1091.8,704.6 1091.6,708.0 1091.5,710.8C1091.5,713.5 1091.5,718.6 1091.7,721.2C1091.8,723.7 1092.3,727.9 1092.6,730.2C1092.8,732.5 1093.4,736.0 1093.6,738.5C1093.8,741.0 1094.1,746.1 1094.3,748.9C1094.5,751.6 1095.2,757.1 1095.3,759.3C1095.4,761.4 1095.3,763.6 1095.0,764.8C1094.7,766.1 1093.9,767.8 1093.3,768.6C1092.6,769.4 1090.7,771.2 1090.1,770.7C1089.6,770.2 1089.2,766.3 1088.9,764.8C1088.6,763.3 1088.2,760.9 1088.1,759.3C1087.9,757.6 1087.8,754.7 1087.7,752.3C1087.6,750.0 1087.5,744.7 1087.4,741.9C1087.2,739.2 1086.8,734.3 1086.7,731.6C1086.5,728.8 1086.3,723.9 1086.3,721.2C1086.3,718.4 1086.5,713.5 1086.7,710.8C1086.8,708.0 1087.2,702.7 1087.4,700.4C1087.5,698.0 1087.6,695.5 1087.7,693.2C1087.8,690.8 1088.0,685.5 1088.1,682.8C1088.2,680.0 1088.3,675.1 1088.4,672.4C1088.5,669.6 1088.7,664.7 1088.8,662.0C1088.8,659.2 1089.0,654.4 1089.1,651.6C1089.2,648.8 1089.4,644.0 1089.4,641.2C1089.5,638.4 1089.4,633.1 1089.6,630.8C1089.7,628.5 1090.1,625.3 1090.5,623.9C1090.9,622.4 1092.0,620.5 1092.6,619.7C1093.2,618.9 1094.6,617.9 1095.0,618.0Z" fill="#98a88c"/>
<path d="M1093.3,641.2C1093.7,639.2 1096.0,635.0 1097.1,632.9C1098.2,630.7 1099.8,627.7 1100.5,627.0C1101.3,626.3 1101.9,627.0 1101.9,628.0C1102.0,629.0 1101.4,632.0 1100.9,633.6C1100.4,635.1 1099.4,636.5 1098.5,638.4C1097.5,640.3 1095.1,645.6 1094.3,646.0C1093.5,646.5 1092.8,643.2 1093.3,641.2Z" fill="#98a88c"/>
<path d="M1089.4,639.1C1088.8,638.8 1086.9,635.7 1086.0,634.3C1085.0,632.8 1083.8,630.7 1083.2,629.4C1082.6,628.2 1081.7,626.3 1081.8,625.9C1081.9,625.6 1083.2,626.4 1083.9,627.3C1084.6,628.3 1085.8,630.8 1086.7,632.2C1087.6,633.5 1089.6,635.3 1090.0,636.3C1090.4,637.4 1090.1,639.4 1089.4,639.1Z" fill="#98a88c"/>
<path d="M1089.1,659.9C1088.4,660.1 1086.3,656.6 1084.6,655.7C1082.9,654.9 1079.9,655.3 1077.7,654.4C1075.5,653.4 1070.5,650.2 1070.0,649.5C1069.6,648.8 1073.5,649.3 1074.9,649.5C1076.2,649.7 1079.1,651.4 1079.1,650.9C1079.1,650.4 1076.1,647.2 1074.9,646.0C1073.6,644.9 1070.7,643.6 1070.7,643.3C1070.7,643.0 1073.6,643.4 1074.9,644.0C1076.1,644.5 1078.8,647.2 1079.1,646.7C1079.3,646.2 1077.1,642.5 1076.3,640.5C1075.5,638.5 1073.9,634.4 1073.9,633.6C1073.9,632.7 1075.4,633.9 1076.3,634.9C1077.2,636.0 1079.0,639.8 1079.7,640.5C1080.5,641.2 1080.7,639.1 1081.1,639.8C1081.5,640.5 1082.1,644.5 1082.5,645.3C1082.9,646.2 1083.4,644.4 1083.9,645.3C1084.4,646.3 1085.5,650.9 1086.0,651.6C1086.5,652.3 1086.9,649.8 1087.4,650.2C1087.9,650.6 1089.1,652.9 1089.3,654.4C1089.6,655.8 1089.8,659.7 1089.1,659.9Z" fill="#98a88c"/>
<path d="M1091.9,668.2C1092.4,666.7 1094.9,664.3 1095.7,662.7C1096.5,661.0 1096.7,658.3 1097.1,657.1C1097.5,656.0 1098.0,654.8 1098.5,655.0C1098.9,655.3 1099.1,658.6 1099.8,658.5C1100.6,658.4 1102.6,656.0 1103.3,654.4C1104.0,652.7 1104.3,648.7 1104.7,647.4C1105.1,646.2 1105.6,645.6 1106.1,646.0C1106.6,646.5 1107.4,650.4 1108.2,650.2C1108.9,650.0 1110.0,645.9 1110.9,644.7C1111.9,643.4 1113.6,642.0 1114.4,641.9C1115.2,641.8 1115.5,644.2 1116.5,644.0C1117.4,643.7 1119.4,641.4 1120.6,640.5C1121.9,639.6 1124.0,637.7 1124.8,637.7C1125.6,637.7 1125.3,639.9 1126.2,640.5C1127.0,641.1 1129.1,640.9 1130.3,641.5C1131.6,642.2 1133.6,643.7 1134.5,644.7C1135.4,645.6 1136.2,647.5 1136.2,648.1C1136.2,648.7 1135.2,649.3 1134.5,648.8C1133.8,648.3 1132.9,645.4 1131.7,644.7C1130.6,643.9 1128.4,643.5 1126.9,644.0C1125.3,644.4 1122.4,646.5 1121.3,647.4C1120.3,648.4 1119.4,649.6 1119.9,650.2C1120.5,650.8 1123.4,651.4 1124.8,651.6C1126.1,651.8 1128.5,651.3 1129.0,651.6C1129.4,651.9 1128.6,653.3 1127.6,653.7C1126.5,654.0 1123.9,653.8 1122.0,653.7C1120.1,653.6 1116.3,652.9 1115.1,653.0C1113.8,653.1 1113.2,653.8 1113.7,654.4C1114.2,654.9 1117.5,655.7 1118.6,656.4C1119.6,657.2 1120.6,658.7 1120.6,659.2C1120.6,659.7 1119.6,660.2 1118.6,659.9C1117.5,659.6 1115.3,657.3 1113.7,657.1C1112.1,656.9 1109.3,658.0 1108.2,658.5C1107.0,659.0 1105.4,660.1 1106.1,660.6C1106.8,661.1 1111.9,661.6 1113.0,662.0C1114.2,662.4 1114.4,663.0 1113.7,663.4C1113.0,663.7 1110.0,664.1 1108.2,664.1C1106.3,664.1 1102.7,663.2 1101.2,663.4C1099.8,663.6 1098.4,664.7 1098.5,665.4C1098.6,666.2 1101.7,667.6 1101.9,668.2C1102.1,668.8 1100.8,669.5 1099.8,669.6C1098.9,669.7 1096.9,668.4 1095.7,668.9C1094.5,669.4 1092.7,673.2 1092.1,673.1C1091.5,673.0 1091.3,669.8 1091.9,668.2Z" fill="#98a88c"/>
<path d="M1088.4,684.8C1087.7,683.8 1084.9,683.2 1083.9,682.1C1082.9,680.9 1082.3,678.7 1081.8,677.2C1081.3,675.8 1080.8,673.6 1080.4,672.4C1080.1,671.1 1080.1,669.4 1079.7,668.9C1079.4,668.4 1078.7,668.4 1078.4,668.9C1078.0,669.4 1078.0,671.5 1077.7,672.4C1077.4,673.2 1076.9,674.1 1076.3,674.4C1075.7,674.8 1074.1,674.9 1073.5,674.4C1072.9,674.0 1072.1,672.8 1072.1,671.7C1072.1,670.5 1073.4,668.2 1073.5,666.8C1073.6,665.5 1073.2,663.2 1072.8,662.7C1072.4,662.1 1071.3,663.4 1070.7,663.4C1070.2,663.4 1069.9,662.7 1069.4,662.7C1068.8,662.7 1067.7,662.6 1067.3,663.4C1066.9,664.1 1067.0,666.9 1066.6,667.5C1066.2,668.1 1064.9,668.1 1064.5,667.5C1064.1,666.9 1064.0,664.9 1063.8,663.4C1063.7,661.8 1063.8,658.0 1063.5,657.1C1063.1,656.3 1062.2,657.2 1061.7,657.8C1061.3,658.4 1061.0,661.4 1060.3,661.3C1059.7,661.2 1058.3,657.6 1057.6,657.1C1056.8,656.6 1056.2,658.4 1055.5,657.8C1054.8,657.2 1053.4,654.3 1052.7,653.0C1052.0,651.6 1051.3,649.4 1050.6,648.8C1050.0,648.2 1048.9,648.2 1048.6,648.8C1048.2,649.4 1048.1,651.5 1048.2,653.0C1048.3,654.4 1048.8,657.3 1049.3,658.5C1049.7,659.8 1051.3,660.8 1051.3,661.3C1051.3,661.8 1049.0,661.4 1049.3,662.0C1049.5,662.6 1052.6,664.5 1052.7,665.4C1052.8,666.4 1049.9,667.4 1049.9,668.2C1049.9,669.0 1051.6,670.0 1052.7,671.0C1053.9,671.9 1056.2,673.6 1057.6,674.4C1058.9,675.3 1061.9,675.9 1061.7,676.5C1061.5,677.2 1057.1,678.0 1056.2,678.6C1055.2,679.2 1055.2,680.4 1055.5,680.7C1055.8,681.0 1057.0,680.8 1058.3,680.7C1059.5,680.6 1061.5,680.0 1063.8,680.0C1066.1,680.0 1071.2,680.3 1073.5,680.7C1075.8,681.1 1077.7,682.0 1079.1,682.8C1080.4,683.5 1081.6,684.8 1082.5,685.5C1083.5,686.3 1084.4,687.1 1085.3,687.6C1086.2,688.1 1087.9,689.4 1088.4,689.0C1088.9,688.6 1089.1,685.9 1088.4,684.8Z" fill="#98a88c"/>
<path d="M1092.1,699.4C1092.6,697.8 1094.6,697.2 1095.7,695.9C1096.7,694.7 1098.4,692.5 1099.2,691.1C1099.9,689.6 1099.9,686.6 1100.5,686.2C1101.2,685.8 1102.7,687.5 1103.3,688.3C1103.9,689.1 1104.2,691.3 1104.7,691.8C1105.2,692.3 1106.0,693.1 1106.8,691.8C1107.5,690.4 1108.9,685.5 1109.5,682.8C1110.2,680.1 1110.5,675.2 1110.9,673.8C1111.3,672.3 1111.8,672.6 1112.3,673.1C1112.8,673.5 1113.9,675.8 1114.4,676.5C1114.9,677.3 1115.4,676.9 1115.8,677.9C1116.2,679.0 1116.4,683.0 1117.2,683.5C1117.9,683.9 1119.8,681.8 1120.6,680.7C1121.5,679.5 1122.3,677.5 1122.7,675.8C1123.1,674.2 1123.1,670.4 1123.4,669.6C1123.7,668.8 1124.4,670.2 1124.8,670.3C1125.2,670.4 1125.8,669.6 1126.2,670.3C1126.6,671.0 1126.7,674.8 1127.6,675.1C1128.4,675.5 1130.5,673.6 1131.7,672.4C1133.0,671.1 1134.8,668.7 1135.9,666.8C1136.9,665.0 1138.0,661.5 1138.7,659.9C1139.3,658.3 1139.8,656.0 1140.0,656.4C1140.3,656.8 1140.6,660.8 1140.4,662.7C1140.2,664.5 1139.2,667.4 1138.7,668.9C1138.1,670.4 1136.6,671.9 1136.6,672.4C1136.6,672.9 1139.0,671.7 1138.7,672.4C1138.3,673.0 1135.9,675.3 1134.5,676.5C1133.0,677.8 1130.2,679.6 1129.0,680.7C1127.7,681.7 1126.3,682.7 1126.2,683.5C1126.1,684.2 1128.9,685.0 1128.3,685.5C1127.6,686.1 1123.6,686.5 1122.0,686.9C1120.5,687.3 1118.7,687.9 1117.9,688.3C1117.0,688.7 1116.5,689.1 1116.5,689.7C1116.5,690.3 1117.2,691.5 1117.9,692.5C1118.5,693.4 1120.0,694.6 1120.6,695.9C1121.3,697.2 1122.4,699.4 1122.0,701.1C1121.6,702.8 1118.9,706.4 1117.9,707.3C1116.8,708.2 1115.8,707.8 1115.1,707.3C1114.4,706.8 1113.6,705.0 1113.0,703.8C1112.4,702.7 1111.6,700.6 1110.9,699.7C1110.3,698.8 1109.7,698.4 1108.9,697.9C1108.0,697.5 1106.5,696.6 1105.4,696.6C1104.2,696.7 1102.4,697.7 1101.2,698.4C1100.1,699.0 1098.8,699.9 1097.8,700.8C1096.7,701.7 1095.2,703.4 1094.3,704.2C1093.4,705.1 1092.4,707.4 1092.1,706.7C1091.7,705.9 1091.5,701.0 1092.1,699.4Z" fill="#98a88c"/>
<path d="M1093.6,731.6C1093.9,730.9 1096.1,729.8 1097.1,728.8C1098.0,727.8 1099.2,726.1 1099.8,724.7C1100.5,723.2 1100.8,721.2 1101.2,719.1C1101.6,717.0 1102.2,713.0 1102.6,710.8C1103.0,708.6 1103.6,705.2 1104.0,704.6C1104.4,703.9 1105.0,705.4 1105.4,706.6C1105.8,707.9 1106.3,711.6 1106.8,712.9C1107.3,714.1 1108.4,715.3 1108.9,714.9C1109.3,714.6 1109.5,712.5 1109.5,710.8C1109.5,709.1 1109.0,705.8 1108.9,703.9C1108.7,701.9 1108.5,698.6 1108.9,698.0C1109.2,697.3 1110.3,698.8 1110.9,699.7C1111.6,700.6 1112.4,702.7 1113.0,703.9C1113.6,705.0 1114.5,706.8 1115.1,707.3C1115.7,707.8 1116.5,707.6 1117.2,707.3C1117.8,707.0 1118.4,706.2 1119.2,705.2C1120.1,704.3 1121.8,702.0 1122.7,701.1C1123.6,700.2 1124.5,700.0 1125.5,699.0C1126.4,698.0 1128.0,695.8 1129.0,694.2C1129.9,692.5 1131.0,689.4 1131.7,687.9C1132.4,686.5 1133.1,685.7 1133.8,684.5C1134.5,683.2 1135.8,680.9 1136.6,679.6C1137.3,678.3 1138.3,675.4 1138.7,675.9C1139.0,676.3 1139.0,681.0 1138.7,682.8C1138.3,684.6 1137.3,686.3 1136.6,687.6C1135.8,689.0 1134.5,690.8 1133.8,691.8C1133.1,692.8 1131.2,694.6 1131.7,694.6C1132.2,694.6 1135.4,692.6 1137.3,691.8C1139.1,691.0 1143.4,689.1 1144.2,689.0C1145.0,688.9 1143.6,690.4 1142.8,691.1C1142.0,691.8 1140.1,693.0 1138.7,693.9C1137.2,694.7 1134.4,695.4 1133.1,696.7C1131.9,697.9 1129.7,701.7 1130.3,702.5C1131.0,703.2 1135.2,701.8 1137.3,701.8C1139.3,701.8 1143.1,702.0 1143.8,702.5C1144.6,702.9 1143.3,704.2 1142.1,704.9C1140.9,705.6 1138.1,706.5 1135.9,707.0C1133.7,707.4 1129.6,707.6 1127.6,708.0C1125.5,708.5 1123.3,709.4 1122.0,710.1C1120.8,710.8 1118.7,712.7 1119.2,712.9C1119.8,713.1 1123.4,711.6 1125.5,711.5C1127.6,711.3 1131.2,711.2 1133.1,711.8C1135.0,712.5 1137.9,715.2 1138.0,715.6C1138.1,716.1 1134.8,714.8 1133.8,714.9C1132.8,715.1 1131.5,715.9 1131.0,716.3C1130.5,716.8 1131.7,717.8 1130.3,718.1C1129.0,718.4 1124.7,718.2 1122.0,718.4C1119.3,718.6 1112.9,718.8 1112.3,719.5C1111.7,720.1 1116.6,721.6 1117.9,722.6C1119.1,723.6 1119.9,724.7 1120.6,726.0C1121.4,727.4 1123.0,730.6 1123.1,731.6C1123.2,732.5 1122.5,732.9 1121.3,732.3C1120.1,731.6 1116.9,728.7 1115.1,727.4C1113.3,726.2 1111.0,724.6 1109.5,724.0C1108.1,723.3 1106.4,722.6 1105.4,722.9C1104.3,723.2 1103.7,724.9 1102.6,726.0C1101.6,727.1 1099.6,729.1 1098.5,730.2C1097.3,731.3 1095.7,733.5 1095.0,733.7C1094.3,733.9 1093.3,732.3 1093.6,731.6Z" fill="#98a88c"/>
<path d="M1038.9,680.0C1039.2,679.7 1041.7,681.3 1043.0,681.4C1044.4,681.5 1046.1,680.4 1047.9,680.7C1049.6,681.0 1053.2,683.3 1054.8,683.5C1056.4,683.7 1057.3,681.7 1058.3,682.1C1059.2,682.5 1060.2,685.2 1061.0,686.2C1061.9,687.3 1062.6,689.0 1063.8,689.0C1065.1,689.0 1067.7,686.7 1069.4,686.2C1071.0,685.7 1074.5,685.2 1074.9,685.5C1075.3,685.8 1072.9,687.2 1072.1,688.3C1071.4,689.5 1069.8,691.8 1070.0,693.2C1070.3,694.5 1072.6,697.1 1073.5,697.3C1074.4,697.5 1075.2,695.3 1076.3,694.5C1077.3,693.8 1079.3,692.9 1080.4,692.5C1081.6,692.1 1083.2,691.3 1083.9,691.8C1084.6,692.3 1084.9,695.9 1085.3,695.9C1085.7,696.0 1086.3,690.9 1086.7,692.1C1087.0,693.2 1087.7,700.5 1087.7,703.8C1087.7,707.2 1087.5,712.8 1086.7,714.2C1085.9,715.7 1084.5,713.8 1082.5,713.5C1080.5,713.2 1075.9,712.6 1073.5,712.1C1071.1,711.7 1068.0,711.2 1066.6,710.8C1065.1,710.3 1063.0,710.1 1063.8,709.4C1064.6,708.7 1072.7,707.1 1072.1,706.3C1071.5,705.4 1062.6,704.5 1059.7,703.8C1056.7,703.2 1054.1,702.4 1052.7,701.8C1051.4,701.1 1050.4,699.5 1050.6,699.3C1050.8,699.1 1052.7,700.4 1054.1,700.4C1055.6,700.3 1059.5,699.5 1060.3,699.0C1061.2,698.5 1061.5,697.3 1059.7,696.9C1057.8,696.5 1050.5,696.9 1047.9,696.2C1045.3,695.5 1043.8,693.0 1042.3,692.1C1040.9,691.1 1038.1,689.8 1038.2,689.7C1038.3,689.5 1041.4,691.0 1043.0,691.1C1044.7,691.2 1049.0,691.1 1049.3,690.4C1049.5,689.7 1045.7,687.3 1044.4,686.2C1043.2,685.2 1041.8,684.4 1040.9,683.5C1040.1,682.5 1038.5,680.3 1038.9,680.0Z" fill="#98a88c"/>
<path d="M1039.9,696.6C1040.5,696.0 1043.1,698.7 1044.4,699.7C1045.7,700.7 1047.6,702.1 1048.6,703.2C1049.5,704.2 1050.3,705.6 1050.6,706.6C1051.0,707.7 1050.4,709.8 1051.0,710.1C1051.6,710.4 1053.5,708.9 1054.8,708.4C1056.1,707.8 1059.2,706.4 1059.7,706.6C1060.1,706.9 1058.2,708.7 1057.6,710.1C1056.9,711.4 1055.8,714.1 1055.5,715.6C1055.2,717.2 1054.9,720.0 1055.5,720.5C1056.1,721.0 1058.2,719.8 1059.7,719.1C1061.1,718.4 1063.1,716.7 1065.2,715.6C1067.3,714.6 1072.8,712.1 1073.5,712.2C1074.2,712.3 1070.8,715.1 1070.0,716.3C1069.3,717.6 1069.3,719.2 1068.7,720.5C1068.0,721.7 1066.6,723.4 1065.9,724.7C1065.2,725.9 1064.1,727.5 1063.8,728.8C1063.5,730.2 1063.2,732.9 1063.8,733.7C1064.4,734.4 1067.2,734.0 1068.0,733.7C1068.7,733.3 1068.0,732.1 1068.7,731.6C1069.3,731.1 1071.2,730.8 1072.1,730.2C1073.1,729.6 1074.3,728.3 1074.9,727.4C1075.5,726.6 1075.6,724.9 1075.9,724.7C1076.2,724.4 1076.6,726.0 1077.0,726.0C1077.4,726.1 1078.6,724.5 1078.7,725.0C1078.8,725.5 1077.8,728.4 1077.7,729.5C1077.6,730.6 1078.2,731.4 1078.0,732.3C1077.8,733.1 1076.9,734.2 1076.3,735.0C1075.7,735.9 1074.4,737.1 1074.2,737.8C1074.0,738.5 1075.1,739.1 1074.9,739.9C1074.7,740.7 1072.9,742.6 1072.8,743.4C1072.7,744.1 1073.4,745.5 1074.2,744.7C1075.0,744.0 1077.2,740.1 1078.4,738.5C1079.5,737.0 1080.9,735.3 1081.8,734.4C1082.8,733.4 1084.1,731.5 1084.6,731.9C1085.1,732.3 1085.0,735.7 1084.9,737.1C1084.8,738.5 1084.4,739.8 1083.9,741.3C1083.4,742.7 1082.2,745.4 1081.8,746.8C1081.4,748.3 1080.9,750.2 1081.1,751.0C1081.3,751.8 1082.5,752.6 1083.2,752.4C1083.9,752.2 1085.3,750.6 1086.0,749.6C1086.7,748.6 1087.4,745.0 1087.7,745.4C1088.1,745.9 1088.5,750.3 1088.4,752.4C1088.4,754.4 1088.0,758.2 1087.4,759.3C1086.7,760.4 1084.9,759.4 1083.9,760.0C1082.9,760.6 1081.6,762.4 1080.4,763.5C1079.3,764.5 1078.4,766.2 1076.3,766.9C1074.2,767.7 1067.4,768.9 1066.6,768.3C1065.7,767.7 1069.5,764.3 1070.7,762.8C1072.0,761.2 1074.1,759.1 1074.9,757.9C1075.7,756.8 1076.5,755.9 1076.3,755.1C1076.1,754.4 1074.5,753.1 1073.5,753.1C1072.5,753.1 1070.8,754.2 1069.4,755.1C1067.9,756.1 1065.5,758.5 1063.8,759.3C1062.1,760.1 1059.8,760.2 1058.3,760.3C1056.7,760.5 1054.5,760.7 1053.4,760.3C1052.4,760.0 1052.4,759.0 1051.3,758.3C1050.2,757.5 1045.9,756.0 1046.1,755.5C1046.3,755.0 1050.7,755.2 1052.7,754.8C1054.7,754.4 1057.9,753.7 1059.7,753.1C1061.4,752.4 1063.5,751.2 1064.5,750.3C1065.5,749.4 1066.7,747.7 1066.6,746.8C1066.5,746.0 1065.1,745.0 1063.8,744.7C1062.6,744.5 1059.7,745.0 1058.3,745.4C1056.8,745.9 1055.2,747.5 1054.1,747.9C1053.0,748.2 1051.9,748.0 1050.6,747.9C1049.4,747.7 1047.4,747.2 1045.8,746.8C1044.2,746.4 1039.9,745.7 1039.9,745.1C1039.9,744.5 1043.7,743.3 1045.8,742.7C1047.9,742.0 1052.0,741.2 1054.1,740.6C1056.2,740.0 1059.1,739.0 1059.7,738.5C1060.2,738.0 1058.6,737.5 1057.6,737.5C1056.5,737.5 1054.7,738.1 1052.7,738.5C1050.7,738.9 1045.5,740.1 1044.4,739.9C1043.3,739.7 1046.2,738.0 1045.1,737.1C1044.0,736.3 1037.2,734.9 1037.1,734.4C1037.0,733.8 1042.8,734.1 1044.4,733.7C1046.0,733.2 1046.6,732.1 1047.9,731.6C1049.1,731.1 1051.5,730.2 1052.7,730.2C1054.0,730.2 1056.4,731.8 1056.2,731.6C1056.0,731.4 1052.9,728.9 1051.3,728.8C1049.8,728.7 1047.3,730.9 1045.8,730.9C1044.2,730.9 1042.2,729.6 1040.9,728.8C1039.6,728.0 1036.9,726.1 1037.1,725.3C1037.3,724.6 1040.2,724.2 1042.3,724.0C1044.5,723.7 1050.1,724.3 1051.3,724.0C1052.6,723.6 1051.9,722.4 1050.6,721.9C1049.4,721.4 1045.1,720.9 1043.0,720.5C1040.9,720.1 1037.5,719.9 1036.4,719.1C1035.3,718.3 1036.1,716.1 1035.7,714.9C1035.4,713.8 1033.7,711.3 1034.0,711.1C1034.3,710.9 1036.3,713.2 1037.5,713.6C1038.6,713.9 1040.6,713.8 1041.6,713.6C1042.7,713.4 1044.4,712.9 1044.4,712.2C1044.4,711.4 1042.3,710.0 1041.6,708.7C1041.0,707.5 1040.5,705.7 1040.2,703.9C1040.0,702.0 1039.3,697.2 1039.9,696.6Z" fill="#98a88c"/></g>
</svg>
</body>
</html>
